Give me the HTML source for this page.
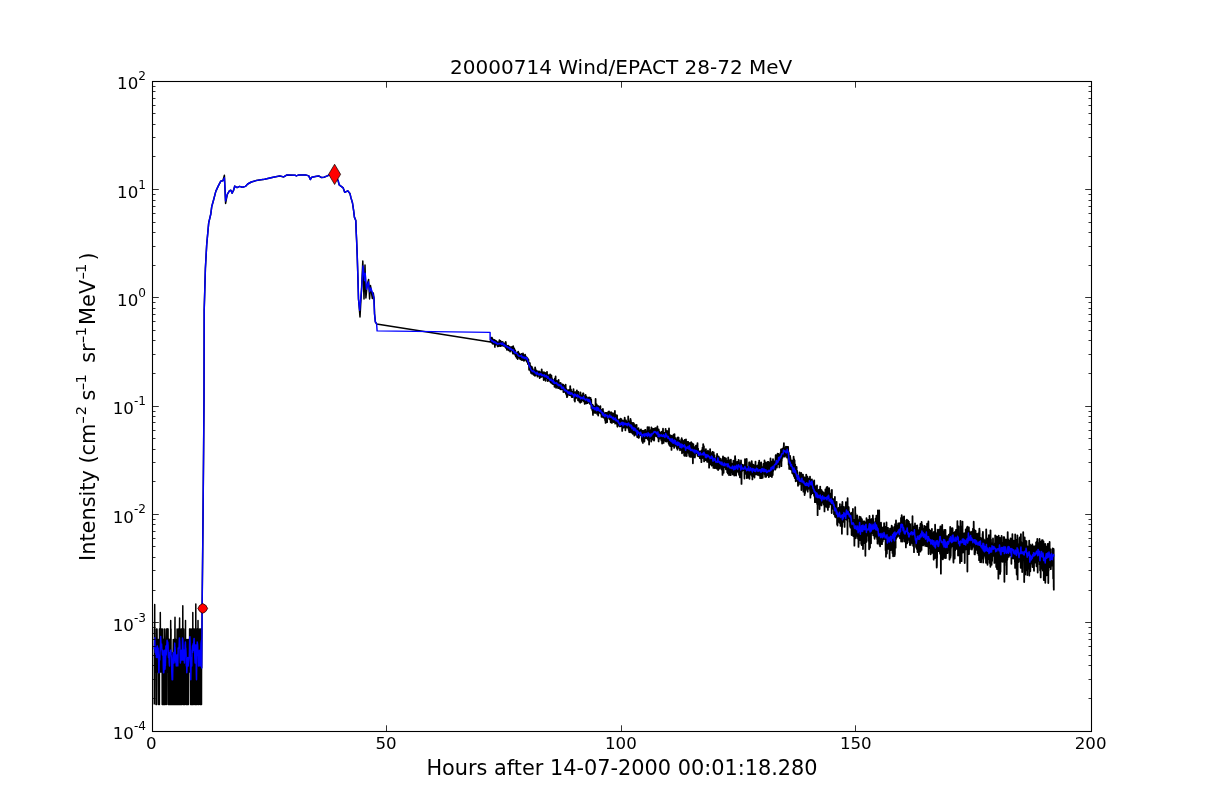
<!DOCTYPE html>
<html lang="en"><head><meta charset="utf-8"><title>20000714 Wind/EPACT 28-72 MeV</title>
<style>html,body{margin:0;padding:0;background:#fff}body{width:1212px;height:812px;overflow:hidden}svg{display:block}text{font-family:"DejaVu Sans","Liberation Sans",sans-serif;fill:#000}.t{font-size:16.67px}.s{font-size:12.1px}.l{font-size:20.83px}.ls{font-size:14.58px}</style></head><body>
<svg width="1212" height="812" viewBox="0 0 1212 812">
<rect width="1212" height="812" fill="#fff"/>
<g fill="none" stroke-linejoin="round" stroke-linecap="butt">
<polyline stroke="#000" stroke-width="1.5" points="154.3,704.6 154.4,628.9 154.5,639.4 154.7,604.5 154.8,672.0 154.9,672.0 155.0,639.4 155.1,672.0 155.2,672.0 155.4,652.9 155.5,639.4 155.6,652.9 155.7,639.4 155.8,639.4 156.0,704.6 156.1,704.6 156.2,639.4 156.3,672.0 156.4,628.9 156.6,652.9 156.7,704.6 156.8,672.0 156.9,639.4 157.0,628.9 157.1,639.4 157.3,672.0 157.4,639.4 157.5,672.0 157.6,672.0 157.7,639.4 157.9,672.0 158.0,672.0 158.1,672.0 158.2,639.4 158.3,639.4 158.4,639.4 158.6,704.6 158.7,672.0 158.8,704.6 158.9,704.6 159.0,704.6 159.2,652.9 159.3,639.4 159.4,704.6 159.5,628.9 159.6,672.0 159.8,672.0 159.9,672.0 160.0,672.0 160.1,652.9 160.2,672.0 160.3,612.4 160.5,652.9 160.6,672.0 160.7,628.9 160.8,672.0 160.9,628.9 161.1,639.4 161.2,672.0 161.3,628.9 161.4,672.0 161.5,652.9 161.6,639.4 161.8,652.9 161.9,639.4 162.0,652.9 162.1,652.9 162.2,704.6 162.4,672.0 162.5,628.9 162.6,704.6 162.7,639.4 162.8,652.9 163.0,652.9 163.1,672.0 163.2,652.9 163.3,704.6 163.4,639.4 163.5,704.6 163.7,704.6 163.8,704.6 163.9,672.0 164.0,704.6 164.1,652.9 164.3,704.6 164.4,628.9 164.5,639.4 164.6,652.9 164.7,672.0 164.9,652.9 165.0,672.0 165.1,672.0 165.2,704.6 165.3,704.6 165.4,672.0 165.6,639.4 165.7,652.9 165.8,672.0 165.9,652.9 166.0,639.4 166.2,628.9 166.3,672.0 166.4,672.0 166.5,704.6 166.6,672.0 166.7,639.4 166.9,628.9 167.0,628.9 167.1,652.9 167.2,639.4 167.3,672.0 167.5,652.9 167.6,628.9 167.7,652.9 167.8,628.9 167.9,652.9 168.1,628.9 168.2,704.6 168.3,672.0 168.4,639.4 168.5,672.0 168.6,672.0 168.8,652.9 168.9,639.4 169.0,639.4 169.1,704.6 169.2,704.6 169.4,639.4 169.5,704.6 169.6,704.6 169.7,652.9 169.8,639.4 169.9,639.4 170.1,652.9 170.2,639.4 170.3,704.6 170.4,672.0 170.5,672.0 170.7,620.4 170.8,652.9 170.9,672.0 171.0,628.9 171.1,704.6 171.3,672.0 171.4,652.9 171.5,652.9 171.6,652.9 171.7,704.6 171.8,704.6 172.0,652.9 172.1,704.6 172.2,704.6 172.3,704.6 172.4,672.0 172.6,704.6 172.7,672.0 172.8,672.0 172.9,672.0 173.0,672.0 173.1,652.9 173.3,639.4 173.4,639.4 173.5,672.0 173.6,652.9 173.7,704.6 173.9,652.9 174.0,672.0 174.1,672.0 174.2,672.0 174.3,652.9 174.5,704.6 174.6,639.4 174.7,652.9 174.8,672.0 174.9,628.9 175.0,617.3 175.2,704.6 175.3,704.6 175.4,652.9 175.5,652.9 175.6,704.6 175.8,639.4 175.9,672.0 176.0,652.9 176.1,704.6 176.2,672.0 176.3,652.9 176.5,672.0 176.6,652.9 176.7,704.6 176.8,639.4 176.9,652.9 177.1,628.9 177.2,704.6 177.3,652.9 177.4,672.0 177.5,704.6 177.7,672.0 177.8,639.4 177.9,652.9 178.0,704.6 178.1,672.0 178.2,672.0 178.4,639.4 178.5,628.9 178.6,628.9 178.7,652.9 178.8,704.6 179.0,652.9 179.1,704.6 179.2,628.9 179.3,639.4 179.4,639.4 179.6,618.1 179.7,672.0 179.8,628.9 179.9,672.0 180.0,672.0 180.1,704.6 180.3,628.9 180.4,704.6 180.5,652.9 180.6,652.9 180.7,704.6 180.9,652.9 181.0,704.6 181.1,628.9 181.2,672.0 181.3,639.4 181.4,704.6 181.6,652.9 181.7,628.9 181.8,652.9 181.9,704.6 182.0,704.6 182.2,652.9 182.3,652.9 182.4,639.4 182.5,672.0 182.6,652.9 182.8,605.7 182.9,639.4 183.0,652.9 183.1,672.0 183.2,704.6 183.3,672.0 183.5,672.0 183.6,639.4 183.7,704.6 183.8,628.9 183.9,639.4 184.1,672.0 184.2,652.9 184.3,672.0 184.4,652.9 184.5,672.0 184.6,652.9 184.8,704.6 184.9,652.9 185.0,639.4 185.1,639.4 185.2,652.9 185.4,672.0 185.5,620.4 185.6,672.0 185.7,639.4 185.8,639.4 186.0,704.6 186.1,704.6 186.2,639.4 186.3,639.4 186.4,704.6 186.5,672.0 186.7,672.0 186.8,704.6 186.9,652.9 187.0,704.6 187.1,652.9 187.3,704.6 187.4,652.9 187.5,672.0 187.6,652.9 187.7,639.4 187.8,704.6 188.0,652.9 188.1,672.0 188.2,672.0 188.3,672.0 188.4,704.6 188.6,639.4 188.7,652.9 188.8,672.0 188.9,652.9 189.0,672.0 189.2,672.0 189.3,672.0 189.4,639.4 189.5,652.9 189.6,628.9 189.7,672.0 189.9,628.9 190.0,628.9 190.1,652.9 190.2,628.9 190.3,672.0 190.5,672.0 190.6,704.6 190.7,704.6 190.8,704.6 190.9,704.6 191.0,672.0 191.2,652.9 191.3,628.9 191.4,704.6 191.5,652.9 191.6,672.0 191.8,704.6 191.9,652.9 192.0,652.9 192.1,672.0 192.2,628.9 192.4,628.9 192.5,704.6 192.6,672.0 192.7,704.6 192.8,612.4 192.9,652.9 193.1,704.6 193.2,639.4 193.3,628.9 193.4,704.6 193.5,652.9 193.7,672.0 193.8,628.9 193.9,639.4 194.0,639.4 194.1,652.9 194.3,628.9 194.4,652.9 194.5,652.9 194.6,639.4 194.7,704.6 194.8,704.6 195.0,639.4 195.1,672.0 195.2,652.9 195.3,672.0 195.4,652.9 195.6,704.6 195.7,639.4 195.8,604.0 195.9,672.0 196.0,639.4 196.1,704.6 196.3,672.0 196.4,672.0 196.5,704.6 196.6,704.6 196.7,672.0 196.9,672.0 197.0,652.9 197.1,639.4 197.2,628.9 197.3,639.4 197.5,639.4 197.6,652.9 197.7,652.9 197.8,704.6 197.9,672.0 198.0,620.4 198.2,672.0 198.3,672.0 198.4,652.9 198.5,652.9 198.6,704.6 198.8,672.0 198.9,672.0 199.0,672.0 199.1,652.9 199.2,672.0 199.3,628.9 199.5,672.0 199.6,639.4 199.7,652.9 199.8,672.0 199.9,704.6 200.1,652.9 200.2,628.9 200.3,704.6 200.4,704.6 200.5,704.6 200.7,652.9 200.8,672.0 200.9,639.4 201.0,628.9 201.1,628.9 201.2,652.9 201.4,672.0 201.5,704.6 201.6,628.9 201.7,668.0 201.9,640.0 202.2,600.0 203.0,520.0 203.6,450.0 204.0,400.0 204.2,310.0 205.4,268.2 206.7,244.6 208.7,222.9 210.8,214.0 211.7,206.8 213.5,200.3 215.8,191.4 218.2,186.1 220.8,181.1 222.9,180.8 224.4,175.3 225.6,203.4 227.3,194.4 229.4,190.8 230.9,190.2 232.1,193.2 233.6,190.2 234.7,186.1 237.1,187.6 239.5,186.4 242.4,187.3 245.4,186.4 247.7,184.0 251.3,182.0 256.0,180.6 259.6,179.9 264.6,179.2 273.2,177.2 279.8,175.9 283.7,176.9 287.0,174.9 295.0,175.2 296.3,175.9 298.9,174.9 305.5,174.9 308.8,175.9 310.3,179.5 311.8,177.2 315.4,176.5 318.7,175.9 321.4,177.5 324.0,177.2 328.0,175.6 329.0,174.9 334.6,174.2 338.1,180.5 339.2,184.9 343.2,187.9 344.7,192.3 347.7,190.8 349.9,193.4 351.0,197.9 352.5,203.0 353.6,210.4 354.4,217.1 355.8,220.5 356.2,232.0 356.6,240.0 357.2,255.0 357.9,277.0 358.5,299.1 358.6,300.0 360.0,317.0 361.5,290.0 362.8,261.0 364.0,299.0 365.0,265.0 365.9,298.0 367.2,285.0 368.6,279.4 369.6,299.0 370.5,285.6 372.3,298.5 373.3,293.0 374.0,298.0 374.6,314.0 375.4,322.0 376.6,323.9 490.5,342.1 490.6,339.1"/>
<polyline stroke="#000" stroke-width="1.8" points="490.6,339.1 490.7,339.6 490.9,339.3 491.0,341.1 491.1,337.7 491.2,340.4 491.4,341.5 491.5,339.9 491.6,342.4 491.7,338.9 491.9,341.5 492.0,337.7 492.1,339.2 492.2,341.3 492.4,341.5 492.5,343.4 492.6,342.0 492.7,340.7 492.9,343.7 493.0,339.3 493.1,343.6 493.2,343.9 493.4,342.6 493.5,341.6 493.6,343.0 493.7,342.6 493.9,342.0 494.0,341.6 494.1,341.6 494.2,341.6 494.4,343.1 494.5,343.2 494.6,339.9 494.7,340.7 494.9,346.9 495.0,341.9 495.1,342.9 495.2,342.3 495.4,342.6 495.5,342.4 495.6,340.8 495.7,344.5 495.9,342.8 496.0,341.0 496.1,343.6 496.2,344.3 496.4,342.8 496.5,341.5 496.6,344.5 496.7,343.9 496.9,342.4 497.0,341.9 497.1,344.1 497.2,344.0 497.4,342.2 497.5,345.0 497.6,342.7 497.7,346.4 497.9,343.0 498.0,344.6 498.1,342.3 498.2,345.3 498.4,344.0 498.5,342.4 498.6,344.1 498.7,344.2 498.9,343.8 499.0,344.4 499.1,346.0 499.2,342.6 499.4,340.2 499.5,342.5 499.6,344.5 499.7,341.7 499.9,343.7 500.0,344.5 500.1,340.9 500.2,343.2 500.4,344.6 500.5,340.8 500.6,341.9 500.7,346.2 500.9,343.2 501.0,342.8 501.1,341.6 501.2,344.0 501.4,344.2 501.5,344.4 501.6,345.2 501.7,343.2 501.9,342.5 502.0,344.5 502.1,343.5 502.2,345.6 502.4,343.5 502.5,344.9 502.6,344.9 502.7,342.0 502.9,342.4 503.0,345.1 503.1,343.6 503.2,344.2 503.4,343.9 503.5,345.6 503.6,345.8 503.7,345.1 503.9,345.3 504.0,344.2 504.1,345.7 504.2,343.8 504.4,345.9 504.5,346.2 504.6,344.6 504.7,343.5 504.9,344.6 505.0,344.5 505.1,346.8 505.2,345.5 505.4,344.5 505.5,347.2 505.6,347.6 505.7,342.0 505.9,343.2 506.0,347.4 506.1,348.1 506.2,345.5 506.4,345.4 506.5,347.4 506.6,346.1 506.7,346.9 506.9,349.8 507.0,349.1 507.1,349.8 507.2,347.1 507.4,347.8 507.5,348.6 507.6,347.8 507.7,345.9 507.9,346.3 508.0,347.2 508.1,346.8 508.2,345.7 508.4,346.7 508.5,348.2 508.6,350.3 508.7,346.1 508.9,346.8 509.0,347.5 509.1,347.1 509.2,347.7 509.4,349.2 509.5,348.2 509.6,349.3 509.7,350.3 509.9,348.3 510.0,347.0 510.1,351.5 510.2,347.6 510.4,347.9 510.5,347.3 510.6,349.2 510.7,349.9 510.9,349.1 511.0,349.8 511.1,348.2 511.2,349.0 511.4,350.2 511.5,349.8 511.6,347.7 511.7,349.7 511.9,346.9 512.0,349.9 512.1,347.7 512.2,349.9 512.4,351.8 512.5,349.7 512.6,350.0 512.7,350.1 512.9,353.5 513.0,351.9 513.1,351.1 513.2,346.2 513.4,352.8 513.5,348.5 513.6,353.6 513.7,353.3 513.9,351.9 514.0,351.5 514.1,351.7 514.2,348.3 514.4,352.0 514.5,352.6 514.6,353.3 514.7,353.7 514.9,351.5 515.0,351.2 515.1,354.4 515.2,350.3 515.4,355.3 515.5,351.5 515.6,353.0 515.7,356.3 515.9,353.1 516.0,354.5 516.1,354.8 516.2,354.1 516.4,355.3 516.5,355.5 516.6,357.8 516.7,353.9 516.9,354.7 517.0,357.6 517.1,354.6 517.2,354.2 517.4,357.9 517.5,355.4 517.6,352.9 517.7,359.0 517.9,352.1 518.0,355.7 518.1,354.6 518.2,351.7 518.4,354.6 518.5,356.2 518.6,353.2 518.7,356.8 518.9,357.3 519.0,353.2 519.1,353.6 519.2,355.3 519.4,357.2 519.5,354.1 519.6,357.9 519.7,356.7 519.9,355.3 520.0,356.1 520.1,358.9 520.2,355.9 520.4,357.0 520.5,359.3 520.6,355.7 520.7,355.7 520.9,355.0 521.0,356.0 521.1,354.7 521.2,357.6 521.4,354.0 521.5,357.1 521.6,356.0 521.7,356.6 521.9,357.7 522.0,360.2 522.1,355.7 522.2,358.9 522.4,355.9 522.5,353.9 522.6,357.2 522.7,358.0 522.9,355.3 523.0,353.5 523.1,354.5 523.2,357.3 523.4,357.2 523.5,356.0 523.6,356.7 523.7,360.3 523.9,355.1 524.0,360.9 524.1,360.1 524.2,358.1 524.4,355.8 524.5,357.5 524.6,358.2 524.7,358.2 524.9,358.8 525.0,356.9 525.1,354.7 525.2,357.9 525.4,355.8 525.5,357.6 525.6,359.8 525.7,359.6 525.9,356.9 526.0,356.8 526.1,360.0 526.2,359.6 526.4,359.0 526.5,357.1 526.6,357.3 526.7,361.7 526.9,358.2 527.0,359.2 527.1,358.3 527.2,360.5 527.4,361.2 527.5,360.4 527.6,358.4 527.7,359.5 527.9,364.0 528.0,361.3 528.1,361.3 528.2,361.5 528.4,359.5 528.5,361.2 528.6,362.8 528.7,363.3 528.9,364.6 529.0,364.4 529.1,369.8 529.2,365.9 529.4,366.2 529.5,364.8 529.6,365.1 529.7,363.8 529.9,363.0 530.0,369.7 530.1,365.9 530.2,367.9 530.4,367.8 530.5,365.6 530.6,370.6 530.7,371.7 530.9,371.3 531.0,372.9 531.1,371.2 531.2,370.1 531.4,370.0 531.5,371.1 531.6,371.2 531.7,369.2 531.9,367.0 532.0,373.0 532.1,373.8 532.2,368.0 532.4,370.1 532.5,368.4 532.6,370.5 532.7,369.1 532.9,369.9 533.0,372.6 533.1,370.8 533.2,372.8 533.4,370.9 533.5,372.0 533.6,374.8 533.7,371.9 533.9,373.5 534.0,374.8 534.1,374.2 534.2,375.0 534.4,371.4 534.5,370.2 534.6,371.5 534.7,371.4 534.9,375.8 535.0,374.8 535.1,367.4 535.2,370.6 535.4,374.5 535.5,375.5 535.6,369.1 535.7,375.2 535.9,373.0 536.0,372.5 536.1,371.4 536.2,371.9 536.4,374.8 536.5,374.9 536.6,374.6 536.7,371.0 536.9,372.2 537.0,374.9 537.1,372.8 537.2,372.5 537.4,373.5 537.5,376.6 537.6,375.7 537.7,376.7 537.9,371.3 538.0,374.3 538.1,374.4 538.2,372.4 538.4,373.8 538.5,374.4 538.6,372.1 538.7,373.0 538.9,374.3 539.0,375.3 539.1,371.5 539.2,373.8 539.4,373.3 539.5,372.1 539.6,375.3 539.7,378.2 539.9,376.2 540.0,373.5 540.1,372.2 540.2,375.6 540.4,374.9 540.5,376.5 540.6,374.4 540.7,372.3 540.9,375.6 541.0,377.2 541.1,375.1 541.2,375.8 541.4,372.0 541.5,375.8 541.6,372.4 541.7,369.4 541.9,375.1 542.0,373.3 542.1,375.4 542.2,373.2 542.4,374.6 542.5,376.5 542.6,376.4 542.7,376.4 542.9,374.9 543.0,376.0 543.1,372.2 543.2,374.4 543.4,376.2 543.5,372.8 543.6,373.9 543.7,380.0 543.9,374.9 544.0,374.7 544.1,374.5 544.2,374.5 544.4,372.5 544.5,376.6 544.6,378.1 544.7,376.1 544.9,375.5 545.0,376.1 545.1,375.7 545.2,372.8 545.4,379.7 545.5,374.4 545.6,380.8 545.7,376.3 545.9,379.0 546.0,377.4 546.1,378.1 546.2,374.4 546.4,374.3 546.5,377.6 546.6,378.0 546.7,375.5 546.9,378.2 547.0,371.8 547.1,377.5 547.2,376.5 547.4,378.7 547.5,376.1 547.6,375.6 547.7,381.0 547.9,376.8 548.0,377.8 548.1,375.4 548.2,380.3 548.4,375.5 548.5,376.2 548.6,378.7 548.7,380.7 548.9,375.5 549.0,379.7 549.1,377.4 549.2,379.0 549.4,380.9 549.5,376.5 549.6,380.9 549.7,380.8 549.9,379.7 550.0,378.3 550.1,374.3 550.2,376.9 550.4,377.2 550.5,381.2 550.6,382.3 550.7,380.0 550.9,378.4 551.0,380.2 551.1,377.5 551.2,382.8 551.4,375.4 551.5,379.5 551.6,377.2 551.7,379.9 551.9,378.4 552.0,380.3 552.1,383.3 552.2,381.5 552.4,382.0 552.5,383.9 552.6,380.3 552.7,379.3 552.9,381.5 553.0,383.4 553.1,381.3 553.2,382.4 553.4,380.5 553.5,384.2 553.6,383.9 553.7,382.4 553.9,383.4 554.0,383.0 554.1,380.4 554.2,382.1 554.4,381.4 554.5,386.8 554.6,382.5 554.7,386.4 554.9,378.4 555.0,383.8 555.1,381.7 555.2,383.0 555.4,385.0 555.5,379.9 555.6,376.5 555.7,382.8 555.9,381.9 556.0,381.4 556.1,387.8 556.2,386.1 556.4,381.9 556.5,382.0 556.6,383.0 556.7,380.8 556.9,384.2 557.0,383.8 557.1,383.6 557.2,383.2 557.4,382.3 557.5,385.9 557.6,381.6 557.7,381.7 557.9,382.8 558.0,388.0 558.1,384.3 558.2,380.8 558.4,382.6 558.5,382.4 558.6,380.0 558.7,383.7 558.9,383.9 559.0,388.0 559.1,385.5 559.2,384.4 559.4,384.5 559.5,383.2 559.6,384.8 559.7,388.7 559.9,383.6 560.0,385.2 560.1,386.4 560.2,386.4 560.4,388.3 560.5,385.3 560.6,382.8 560.7,389.3 560.9,387.5 561.0,384.9 561.1,384.7 561.2,384.4 561.4,386.0 561.5,389.4 561.6,384.6 561.7,387.4 561.9,386.3 562.0,384.3 562.1,388.6 562.2,384.4 562.4,388.3 562.5,387.0 562.6,386.9 562.7,387.2 562.9,385.0 563.0,385.7 563.1,389.1 563.2,384.6 563.4,392.0 563.5,391.4 563.6,388.4 563.7,388.0 563.9,389.3 564.0,385.7 564.1,390.3 564.2,389.9 564.4,390.4 564.5,388.8 564.6,389.1 564.7,388.7 564.9,391.8 565.0,389.7 565.1,392.2 565.2,391.6 565.4,389.8 565.5,390.1 565.6,384.6 565.7,387.5 565.9,393.8 566.0,389.6 566.1,389.4 566.2,389.9 566.4,389.2 566.5,390.9 566.6,391.0 566.7,395.4 566.9,390.9 567.0,397.2 567.1,394.5 567.2,391.3 567.4,395.7 567.5,395.9 567.6,391.6 567.7,390.9 567.9,394.5 568.0,390.2 568.1,390.8 568.2,390.9 568.4,392.1 568.5,390.9 568.6,390.9 568.7,394.3 568.9,392.2 569.0,392.0 569.1,390.0 569.2,394.1 569.4,392.0 569.5,395.2 569.6,393.8 569.7,393.9 569.9,394.9 570.0,392.0 570.1,392.9 570.2,386.1 570.4,394.6 570.5,391.7 570.6,395.1 570.7,391.1 570.9,395.5 571.0,389.5 571.1,392.7 571.2,392.6 571.4,395.8 571.5,391.3 571.6,395.1 571.7,397.0 571.9,393.7 572.0,393.5 572.1,397.2 572.2,392.2 572.4,397.2 572.5,395.0 572.6,393.1 572.7,396.3 572.9,394.2 573.0,395.2 573.1,396.4 573.2,391.4 573.4,392.2 573.5,389.2 573.6,392.1 573.7,392.9 573.9,395.3 574.0,394.2 574.1,396.7 574.2,395.5 574.4,396.1 574.5,400.6 574.6,393.8 574.7,395.9 574.9,401.5 575.0,394.4 575.1,392.2 575.2,396.1 575.4,397.3 575.5,396.9 575.6,392.4 575.7,398.4 575.9,392.6 576.0,395.9 576.1,396.9 576.2,391.9 576.4,395.0 576.5,392.9 576.6,396.1 576.7,397.6 576.9,390.3 577.0,394.6 577.1,395.2 577.2,397.7 577.4,396.7 577.5,393.8 577.6,395.8 577.7,397.8 577.9,394.1 578.0,400.3 578.1,395.9 578.2,395.5 578.4,391.8 578.5,394.7 578.6,396.2 578.7,397.4 578.9,400.5 579.0,398.1 579.1,397.9 579.2,398.3 579.4,401.7 579.5,396.2 579.6,396.6 579.7,396.1 579.9,396.1 580.0,397.9 580.1,401.6 580.2,402.8 580.4,398.3 580.5,392.4 580.6,400.1 580.7,396.9 580.9,397.1 581.0,394.9 581.1,398.3 581.2,396.1 581.4,398.8 581.5,401.9 581.6,399.0 581.7,396.8 581.9,396.0 582.0,398.0 582.1,396.7 582.2,400.0 582.4,400.5 582.5,396.0 582.6,395.6 582.7,399.4 582.9,396.4 583.0,393.4 583.1,397.2 583.2,395.7 583.4,393.5 583.5,398.0 583.6,399.1 583.7,398.0 583.9,401.4 584.0,400.4 584.1,401.2 584.2,397.7 584.4,399.6 584.5,396.4 584.6,398.6 584.7,403.9 584.9,400.2 585.0,400.1 585.1,400.0 585.2,402.3 585.4,397.3 585.5,402.6 585.6,394.8 585.7,395.7 585.9,399.5 586.0,399.8 586.1,397.7 586.2,397.9 586.4,403.4 586.5,401.1 586.6,397.0 586.7,401.1 586.9,399.8 587.0,397.8 587.1,402.1 587.2,401.8 587.4,399.3 587.5,398.7 587.6,403.0 587.7,399.9 587.9,400.1 588.0,401.5 588.1,401.9 588.2,401.8 588.4,401.4 588.5,398.7 588.6,397.7 588.7,398.6 588.9,398.8 589.0,402.2 589.1,399.4 589.2,397.5 589.4,397.7 589.5,399.9 589.6,400.4 589.7,403.4 589.9,398.3 590.0,400.8 590.1,404.0 590.2,403.1 590.4,402.3 590.5,402.1 590.6,398.0 590.7,402.3 590.9,402.0 591.0,400.8 591.1,403.2 591.2,399.7 591.4,407.8 591.5,408.6 591.6,404.1 591.7,405.8 591.9,407.6 592.0,408.7 592.1,405.6 592.2,407.0 592.4,410.5 592.5,407.0 592.6,407.6 592.7,405.0 592.9,412.7 593.0,414.9 593.1,406.0 593.2,407.7 593.4,412.8 593.5,407.1 593.6,411.5 593.7,407.3 593.9,408.8 594.0,406.6 594.1,408.3 594.2,410.4 594.4,407.6 594.5,411.9 594.6,411.1 594.7,406.7 594.9,411.2 595.0,406.7 595.1,413.0 595.2,407.9 595.4,406.0 595.5,408.7 595.6,398.9 595.7,407.3 595.9,407.2 596.0,406.9 596.1,404.9 596.2,406.6 596.4,412.7 596.5,407.9 596.6,409.3 596.7,404.5 596.9,409.6 597.0,411.3 597.1,410.1 597.2,413.9 597.4,406.8 597.5,409.8 597.6,412.6 597.7,407.3 597.9,406.1 598.0,409.6 598.1,408.7 598.2,415.5 598.4,406.1 598.5,411.7 598.6,410.1 598.7,408.8 598.9,408.6 599.0,412.3 599.1,408.9 599.2,406.9 599.4,412.5 599.5,409.1 599.6,408.3 599.7,410.2 599.9,409.3 600.0,409.3 600.1,412.5 600.2,412.7 600.4,406.2 600.5,413.2 600.6,413.6 600.7,410.8 600.9,411.4 601.0,411.0 601.1,412.5 601.2,413.8 601.4,411.1 601.5,416.8 601.6,412.6 601.7,413.5 601.9,414.3 602.0,409.8 602.1,412.4 602.2,413.1 602.4,412.7 602.5,414.3 602.6,414.7 602.7,416.9 602.9,409.0 603.0,411.6 603.1,416.2 603.2,412.5 603.4,413.8 603.5,411.9 603.6,417.7 603.7,414.4 603.9,417.1 604.0,413.5 604.1,414.6 604.2,417.6 604.4,413.9 604.5,417.5 604.6,416.6 604.7,413.3 604.9,413.2 605.0,419.8 605.1,419.1 605.2,420.8 605.4,416.0 605.5,413.5 605.6,422.9 605.7,412.8 605.9,413.4 606.0,415.7 606.1,416.6 606.2,412.8 606.4,418.5 606.5,415.2 606.6,413.3 606.7,417.3 606.9,415.9 607.0,412.9 607.1,422.2 607.2,413.8 607.4,418.7 607.5,417.5 607.6,415.0 607.7,416.7 607.9,415.7 608.0,417.4 608.1,415.5 608.2,416.5 608.4,411.7 608.5,417.4 608.6,414.2 608.7,414.2 608.9,417.4 609.0,411.3 609.1,415.4 609.2,416.9 609.4,417.8 609.5,419.2 609.6,414.9 609.7,418.5 609.9,416.0 610.0,416.8 610.1,418.5 610.2,417.5 610.4,414.0 610.5,420.4 610.6,412.3 610.7,422.3 610.9,416.2 611.0,420.2 611.1,412.2 611.2,415.2 611.4,416.4 611.5,416.6 611.6,417.3 611.7,414.8 611.9,422.9 612.0,416.9 612.1,415.9 612.2,417.5 612.4,418.5 612.5,420.9 612.6,417.0 612.7,413.1 612.9,416.7 613.0,417.2 613.1,420.9 613.2,418.0 613.4,418.9 613.5,417.2 613.6,422.1 613.7,422.1 613.9,417.9 614.0,417.2 614.1,413.5 614.2,418.1 614.4,417.1 614.5,417.6 614.6,419.9 614.7,415.8 614.9,411.0 615.0,420.0 615.1,419.0 615.2,423.7 615.4,422.2 615.5,422.0 615.6,420.0 615.7,420.6 615.9,421.7 616.0,417.1 616.1,415.2 616.2,423.1 616.4,420.0 616.5,420.8 616.6,417.5 616.7,417.0 616.9,423.9 617.0,418.9 617.1,415.4 617.2,424.2 617.4,426.8 617.5,425.2 617.6,422.2 617.7,419.1 617.9,423.7 618.0,424.9 618.1,421.0 618.2,424.4 618.4,421.8 618.5,424.3 618.6,424.5 618.7,420.8 618.9,423.6 619.0,421.9 619.1,420.2 619.2,424.9 619.4,423.5 619.5,426.3 619.6,424.5 619.7,419.7 619.9,426.1 620.0,422.3 620.1,422.8 620.2,426.3 620.4,418.7 620.5,423.4 620.6,420.5 620.7,422.3 620.9,422.9 621.0,422.3 621.1,426.0 621.2,422.3 621.4,419.1 621.5,421.1 621.6,424.4 621.7,425.6 621.9,423.9 622.0,421.4 622.1,424.8 622.2,430.9 622.4,424.1 622.5,425.0 622.6,420.7 622.7,423.7 622.9,425.3 623.0,423.3 623.1,420.8 623.2,427.7 623.4,422.4 623.5,425.3 623.6,424.7 623.7,423.7 623.9,427.5 624.0,425.9 624.1,426.1 624.2,426.7 624.4,419.6 624.5,420.3 624.6,425.7 624.7,417.6 624.9,421.6 625.0,427.2 625.1,424.2 625.2,420.3 625.4,430.3 625.5,425.4 625.6,426.0 625.7,420.7 625.9,420.7 626.0,420.4 626.1,422.2 626.2,421.8 626.4,422.5 626.5,425.4 626.6,424.8 626.7,422.7 626.9,422.4 627.0,424.8 627.1,425.2 627.2,427.7 627.4,421.9 627.5,423.3 627.6,423.0 627.7,425.5 627.9,424.5 628.0,426.1 628.1,426.1 628.2,416.4 628.4,424.9 628.5,425.1 628.6,423.6 628.7,430.0 628.9,428.1 629.0,425.3 629.1,421.2 629.2,432.1 629.4,428.0 629.5,423.7 629.6,426.6 629.7,430.8 629.9,422.3 630.0,423.6 630.1,432.3 630.2,423.3 630.4,424.1 630.5,418.9 630.6,423.7 630.7,420.0 630.9,421.1 631.0,431.2 631.1,424.3 631.2,423.2 631.4,424.9 631.5,430.2 631.6,424.2 631.7,422.6 631.9,432.7 632.0,424.7 632.1,423.6 632.2,430.2 632.4,430.4 632.5,429.2 632.6,427.4 632.7,433.8 632.9,431.2 633.0,429.3 633.1,422.9 633.2,423.3 633.4,430.5 633.5,430.1 633.6,429.7 633.7,430.3 633.9,423.5 634.0,428.1 634.1,430.9 634.2,434.9 634.4,435.7 634.5,429.9 634.6,426.1 634.7,433.4 634.9,430.6 635.0,433.5 635.1,425.1 635.2,429.7 635.4,428.1 635.5,431.9 635.6,432.5 635.7,431.3 635.9,428.0 636.0,434.7 636.1,431.8 636.2,431.6 636.4,433.6 636.5,432.5 636.6,424.8 636.7,432.1 636.9,430.6 637.0,431.7 637.1,432.8 637.2,437.0 637.4,433.5 637.5,434.9 637.6,429.1 637.7,432.9 637.9,434.5 638.0,434.5 638.1,432.3 638.2,430.2 638.4,435.0 638.5,428.2 638.6,437.9 638.7,433.5 638.9,434.4 639.0,437.5 639.1,434.9 639.2,431.2 639.4,430.6 639.5,433.2 639.6,433.9 639.7,433.9 639.9,430.5 640.0,433.3 640.1,432.4 640.2,433.7 640.4,432.4 640.5,435.1 640.6,433.6 640.7,434.7 640.9,430.6 641.0,429.4 641.1,434.3 641.2,431.3 641.4,431.7 641.5,430.7 641.6,436.5 641.7,437.2 641.9,440.2 642.0,431.4 642.1,434.9 642.2,441.5 642.4,436.4 642.5,433.2 642.6,437.8 642.7,438.1 642.9,442.9 643.0,430.7 643.1,434.3 643.2,434.5 643.4,435.5 643.5,433.0 643.6,433.2 643.7,432.4 643.9,433.4 644.0,431.1 644.1,432.8 644.2,435.5 644.4,441.6 644.5,436.2 644.6,434.3 644.7,434.1 644.9,438.5 645.0,437.1 645.1,429.8 645.2,432.1 645.4,429.8 645.5,435.2 645.6,430.7 645.7,433.7 645.9,435.2 646.0,435.0 646.1,438.1 646.2,436.2 646.4,433.2 646.5,434.5 646.6,436.4 646.7,432.6 646.9,436.4 647.0,436.6 647.1,433.0 647.2,434.5 647.4,432.1 647.5,427.1 647.6,439.0 647.7,434.1 647.9,437.8 648.0,434.8 648.1,437.1 648.2,432.4 648.4,440.3 648.5,437.8 648.6,438.5 648.7,438.8 648.9,434.8 649.0,427.1 649.1,444.5 649.2,436.8 649.4,435.9 649.5,435.6 649.6,430.6 649.7,430.6 649.9,438.0 650.0,434.0 650.1,431.6 650.2,435.6 650.4,434.8 650.5,434.6 650.6,433.3 650.7,431.7 650.9,437.8 651.0,429.6 651.1,433.4 651.2,441.6 651.4,427.4 651.5,435.9 651.6,432.7 651.7,434.5 651.9,435.8 652.0,428.5 652.1,431.6 652.2,431.5 652.4,436.2 652.5,436.7 652.6,431.1 652.7,432.6 652.9,439.1 653.0,429.6 653.1,439.8 653.2,433.6 653.4,438.0 653.5,428.9 653.6,433.6 653.7,432.4 653.9,430.9 654.0,440.5 654.1,438.4 654.2,440.4 654.4,428.6 654.5,430.0 654.6,432.1 654.7,434.3 654.9,432.5 655.0,429.6 655.1,432.3 655.2,431.3 655.4,428.2 655.5,430.5 655.6,433.7 655.7,428.6 655.9,436.0 656.0,428.1 656.1,434.5 656.2,436.3 656.4,435.9 656.5,431.2 656.6,435.0 656.7,432.8 656.9,433.0 657.0,434.6 657.1,432.0 657.2,429.3 657.4,426.5 657.5,433.8 657.6,431.0 657.7,437.5 657.9,430.6 658.0,436.1 658.1,430.8 658.2,436.9 658.4,430.2 658.5,430.1 658.6,441.4 658.7,429.5 658.9,434.0 659.0,438.4 659.1,432.7 659.2,436.3 659.4,431.4 659.5,432.3 659.6,437.1 659.7,436.4 659.9,438.1 660.0,432.6 660.1,438.6 660.2,436.7 660.4,435.5 660.5,435.3 660.6,438.7 660.7,433.1 660.9,436.0 661.0,435.6 661.1,432.7 661.2,435.6 661.4,440.4 661.5,435.8 661.6,433.8 661.7,431.6 661.9,432.2 662.0,432.7 662.1,443.5 662.2,439.9 662.4,432.2 662.5,437.7 662.6,435.8 662.7,436.7 662.9,436.7 663.0,428.7 663.1,437.6 663.2,436.4 663.4,432.6 663.5,436.0 663.6,442.9 663.7,437.6 663.9,434.1 664.0,440.8 664.1,432.8 664.2,437.1 664.4,439.6 664.5,439.8 664.6,438.8 664.7,433.9 664.9,435.5 665.0,435.2 665.1,433.0 665.2,435.7 665.4,439.5 665.5,441.3 665.6,428.8 665.7,435.0 665.9,433.1 666.0,436.9 666.1,432.7 666.2,439.7 666.4,438.2 666.5,430.9 666.6,440.3 666.7,441.6 666.9,440.6 667.0,435.3 667.1,430.8 667.2,440.4 667.4,436.5 667.5,437.5 667.6,437.1 667.7,435.9 667.9,431.8 668.0,431.6 668.1,436.2 668.2,434.9 668.4,435.2 668.5,439.9 668.6,443.3 668.7,441.2 668.9,433.9 669.0,428.4 669.1,444.8 669.2,437.2 669.4,443.5 669.5,442.2 669.6,441.4 669.7,434.6 669.9,443.0 670.0,442.0 670.1,446.1 670.2,437.6 670.4,444.0 670.5,439.4 670.6,436.1 670.7,441.7 670.9,441.5 671.0,438.8 671.1,442.5 671.2,436.3 671.4,435.8 671.5,449.9 671.6,442.6 671.7,441.6 671.9,440.7 672.0,443.5 672.1,446.3 672.2,440.5 672.4,440.8 672.5,438.4 672.6,440.3 672.7,445.8 672.9,444.2 673.0,442.6 673.1,438.7 673.2,435.2 673.4,444.0 673.5,439.9 673.6,444.2 673.7,439.9 673.9,434.4 674.0,439.7 674.1,444.3 674.2,447.9 674.4,445.7 674.5,434.1 674.6,442.5 674.7,442.8 674.9,444.6 675.0,441.8 675.1,442.3 675.2,437.9 675.4,439.6 675.5,444.4 675.6,441.9 675.7,439.2 675.9,440.9 676.0,445.8 676.1,444.2 676.2,439.7 676.4,440.2 676.5,446.7 676.6,441.0 676.7,443.5 676.9,448.2 677.0,441.5 677.1,447.4 677.2,447.4 677.4,437.7 677.5,449.7 677.6,443.9 677.7,446.3 677.9,437.5 678.0,443.9 678.1,440.4 678.2,445.5 678.4,447.8 678.5,445.6 678.6,437.6 678.7,447.5 678.9,441.9 679.0,443.5 679.1,447.9 679.2,440.5 679.4,443.8 679.5,442.0 679.6,444.9 679.7,445.2 679.9,444.1 680.0,450.3 680.1,447.7 680.2,447.7 680.4,441.9 680.5,448.6 680.6,447.4 680.7,444.2 680.9,445.8 681.0,442.9 681.1,441.2 681.2,439.7 681.4,449.5 681.5,442.7 681.6,442.7 681.7,438.2 681.9,444.8 682.0,453.3 682.1,439.6 682.2,442.6 682.4,444.4 682.5,443.6 682.6,447.9 682.7,442.1 682.9,446.9 683.0,440.9 683.1,452.2 683.2,448.3 683.4,449.5 683.5,443.0 683.6,448.6 683.7,447.5 683.9,444.8 684.0,449.6 684.1,452.9 684.2,455.5 684.4,450.2 684.5,448.2 684.6,439.9 684.7,447.4 684.9,450.0 685.0,455.9 685.1,445.8 685.2,449.4 685.4,444.2 685.5,449.2 685.6,451.2 685.7,448.6 685.9,445.9 686.0,439.4 686.1,443.8 686.2,447.3 686.4,445.9 686.5,451.1 686.6,445.2 686.7,456.1 686.9,446.5 687.0,450.8 687.1,444.2 687.2,445.5 687.4,448.3 687.5,445.0 687.6,442.0 687.7,447.8 687.9,444.8 688.0,445.3 688.1,452.5 688.2,441.8 688.4,452.8 688.5,452.2 688.6,447.0 688.7,444.4 688.9,444.4 689.0,451.7 689.1,455.1 689.2,449.4 689.4,453.9 689.5,456.5 689.6,445.0 689.7,448.3 689.9,443.0 690.0,446.7 690.1,447.2 690.2,452.1 690.4,447.8 690.5,453.1 690.6,452.8 690.7,447.0 690.9,448.4 691.0,457.0 691.1,448.5 691.2,442.2 691.4,449.3 691.5,445.0 691.6,450.2 691.7,450.5 691.9,451.4 692.0,446.6 692.1,449.7 692.2,443.5 692.4,456.2 692.5,450.0 692.6,444.9 692.7,448.1 692.9,463.3 693.0,449.2 693.1,454.6 693.2,451.0 693.4,444.2 693.5,454.0 693.6,450.7 693.7,446.8 693.9,451.3 694.0,454.4 694.1,451.7 694.2,452.9 694.4,454.1 694.5,452.9 694.6,448.3 694.7,457.4 694.9,453.9 695.0,457.4 695.1,446.9 695.2,449.2 695.4,452.1 695.5,453.3 695.6,451.5 695.7,453.3 695.9,445.7 696.0,453.3 696.1,452.4 696.2,450.1 696.4,452.2 696.5,448.2 696.6,453.4 696.7,451.6 696.9,447.4 697.0,445.5 697.1,448.5 697.2,444.8 697.4,452.0 697.5,443.1 697.6,455.7 697.7,454.4 697.9,451.1 698.0,456.1 698.1,448.6 698.2,455.1 698.4,455.8 698.5,452.1 698.6,451.2 698.7,455.5 698.9,452.7 699.0,452.7 699.1,453.0 699.2,456.5 699.4,456.2 699.5,456.2 699.6,455.3 699.7,451.3 699.9,458.2 700.0,456.6 700.1,453.7 700.2,457.6 700.4,456.3 700.5,452.6 700.6,456.0 700.7,453.8 700.9,458.7 701.0,453.5 701.1,454.1 701.2,450.9 701.4,462.2 701.5,460.1 701.6,450.9 701.7,453.3 701.9,450.1 702.0,451.2 702.1,456.1 702.2,458.1 702.4,458.1 702.5,447.7 702.6,451.6 702.7,455.9 702.9,454.3 703.0,447.4 703.1,452.2 703.2,444.1 703.4,452.5 703.5,451.1 703.6,456.6 703.7,455.3 703.9,446.2 704.0,457.3 704.1,461.4 704.2,452.3 704.4,454.5 704.5,456.4 704.6,451.2 704.7,460.4 704.9,457.0 705.0,450.7 705.1,459.4 705.2,456.4 705.4,456.8 705.5,452.5 705.6,456.5 705.7,460.2 705.9,449.1 706.0,455.6 706.1,455.9 706.2,455.0 706.4,456.6 706.5,453.2 706.6,454.1 706.7,453.8 706.9,458.3 707.0,457.0 707.1,461.8 707.2,451.5 707.4,460.7 707.5,451.5 707.6,452.1 707.7,461.8 707.9,457.4 708.0,450.7 708.1,458.1 708.2,451.3 708.4,458.8 708.5,452.0 708.6,461.6 708.7,454.4 708.9,460.9 709.0,457.6 709.1,467.7 709.2,452.9 709.4,456.3 709.5,454.2 709.6,457.6 709.7,457.7 709.9,451.8 710.0,456.4 710.1,449.1 710.2,458.4 710.4,456.1 710.5,455.5 710.6,458.4 710.7,464.4 710.9,463.7 711.0,457.2 711.1,456.5 711.2,454.7 711.4,463.0 711.5,453.2 711.6,460.2 711.7,465.7 711.9,462.7 712.0,457.0 712.1,453.6 712.2,461.0 712.4,451.9 712.5,462.1 712.6,451.9 712.7,454.3 712.9,455.2 713.0,459.7 713.1,458.4 713.2,462.2 713.4,467.9 713.5,453.8 713.6,458.5 713.7,452.3 713.9,463.3 714.0,461.6 714.1,458.9 714.2,456.9 714.4,463.8 714.5,455.1 714.6,467.2 714.7,463.8 714.9,468.1 715.0,464.6 715.1,467.7 715.2,459.3 715.4,462.5 715.5,458.7 715.6,458.4 715.7,460.4 715.9,464.0 716.0,461.5 716.1,461.1 716.2,461.5 716.4,460.5 716.5,458.2 716.6,467.9 716.7,468.7 716.9,456.0 717.0,458.6 717.1,453.9 717.2,461.3 717.4,461.7 717.5,466.8 717.6,465.3 717.7,459.3 717.9,457.4 718.0,459.7 718.1,470.1 718.2,459.7 718.4,463.2 718.5,456.5 718.6,461.1 718.7,456.6 718.9,467.4 719.0,462.9 719.1,465.1 719.2,461.9 719.4,462.6 719.5,457.9 719.6,466.3 719.7,468.6 719.9,459.9 720.0,463.7 720.1,462.3 720.2,460.3 720.4,462.7 720.5,460.6 720.6,461.0 720.7,463.4 720.9,459.0 721.0,460.0 721.1,460.0 721.2,462.1 721.4,465.0 721.5,465.7 721.6,469.6 721.7,466.9 721.9,465.8 722.0,463.2 722.1,466.9 722.2,466.2 722.4,465.1 722.5,474.9 722.6,463.3 722.7,469.4 722.9,458.2 723.0,456.4 723.1,464.4 723.2,467.4 723.4,461.9 723.5,467.8 723.6,472.8 723.7,468.6 723.9,462.7 724.0,458.3 724.1,463.8 724.2,457.7 724.4,460.0 724.5,465.3 724.6,461.7 724.7,465.7 724.9,462.1 725.0,465.7 725.1,465.3 725.2,463.5 725.4,467.2 725.5,458.2 725.6,466.1 725.7,463.2 725.9,469.3 726.0,458.5 726.1,465.4 726.2,464.3 726.4,462.9 726.5,466.6 726.6,461.9 726.7,466.2 726.9,463.7 727.0,467.0 727.1,462.0 727.2,472.3 727.4,472.3 727.5,461.3 727.6,460.6 727.7,464.1 727.9,473.6 728.0,468.6 728.1,461.4 728.2,457.5 728.4,459.7 728.5,469.9 728.6,467.5 728.7,459.7 728.9,467.2 729.0,471.6 729.1,475.1 729.2,463.5 729.4,463.9 729.5,467.6 729.6,461.1 729.7,474.7 729.9,463.9 730.0,460.5 730.1,474.7 730.2,463.9 730.4,465.4 730.5,464.7 730.6,466.2 730.7,475.2 730.9,459.6 731.0,473.0 731.1,468.9 731.2,464.4 731.4,469.3 731.5,465.5 731.6,463.3 731.7,472.6 731.9,467.4 732.0,468.2 732.1,469.0 732.2,466.3 732.4,468.2 732.5,466.3 732.6,469.4 732.7,474.4 732.9,468.2 733.0,469.8 733.1,473.6 733.2,469.4 733.4,460.7 733.5,466.0 733.6,469.5 733.7,466.4 733.9,469.5 734.0,466.4 734.1,470.7 734.2,475.5 734.4,464.6 734.5,468.7 734.6,465.7 734.7,469.6 734.9,475.0 735.0,457.7 735.1,456.1 735.2,465.4 735.4,458.9 735.5,471.6 735.6,470.0 735.7,470.8 735.9,472.4 736.0,463.6 736.1,475.5 736.2,468.8 736.4,467.6 736.5,471.2 736.6,467.6 736.7,462.2 736.9,467.6 737.0,462.2 737.1,467.6 737.2,466.8 737.4,462.2 737.5,462.5 737.6,465.4 737.7,462.2 737.9,469.6 738.0,470.4 738.1,462.5 738.2,472.4 738.4,468.0 738.5,469.2 738.6,459.9 738.7,464.3 738.9,460.5 739.0,474.2 739.1,475.0 739.2,464.6 739.4,470.4 739.5,466.8 739.6,465.0 739.7,465.4 739.9,477.3 740.0,465.4 740.1,465.4 740.2,462.9 740.4,467.2 740.5,463.2 740.6,466.8 740.7,467.6 740.9,466.5 741.0,460.5 741.1,472.0 741.2,468.4 741.4,472.9 741.5,483.9 741.6,475.0 741.7,468.4 741.9,470.0 742.0,470.4 742.1,471.2 742.2,469.6 742.4,470.8 742.5,467.2 742.6,468.0 742.7,464.7 742.9,468.0 743.0,465.4 743.1,468.8 743.2,468.1 743.4,467.7 743.5,466.9 743.6,466.2 743.7,468.5 743.9,469.3 744.0,470.5 744.1,465.1 744.2,469.3 744.4,473.0 744.5,478.5 744.6,467.8 744.7,465.6 744.9,467.8 745.0,459.1 745.1,466.7 745.2,474.0 745.4,473.5 745.5,469.8 745.6,469.8 745.7,468.3 745.9,467.9 746.0,472.3 746.1,464.2 746.2,469.1 746.4,460.8 746.5,463.9 746.6,472.3 746.7,458.9 746.9,478.2 747.0,471.1 747.1,470.3 747.2,469.9 747.4,467.2 747.5,473.3 747.6,472.8 747.7,471.2 747.9,472.4 748.0,467.3 748.1,470.4 748.2,466.9 748.4,475.1 748.5,472.1 748.6,467.3 748.7,477.8 748.9,472.1 749.0,468.1 749.1,462.4 749.2,466.6 749.4,470.9 749.5,478.8 749.6,462.4 749.7,470.5 749.9,473.0 750.0,473.4 750.1,469.3 750.2,463.8 750.4,467.4 750.5,469.0 750.6,471.4 750.7,469.4 750.9,469.4 751.0,466.3 751.1,466.0 751.2,474.8 751.4,467.8 751.5,468.6 751.6,461.8 751.7,461.1 751.9,464.9 752.0,468.2 752.1,476.6 752.2,470.2 752.4,479.4 752.5,464.2 752.6,470.6 752.7,473.5 752.9,469.0 753.0,473.1 753.1,468.6 753.2,476.1 753.4,471.4 753.5,470.6 753.6,464.9 753.7,475.7 753.9,470.2 754.0,465.3 754.1,473.5 754.2,474.4 754.4,471.0 754.5,477.5 754.6,470.6 754.7,469.8 754.9,470.2 755.0,467.5 755.1,467.9 755.2,471.5 755.4,473.1 755.5,461.6 755.6,471.1 755.7,474.4 755.9,465.4 756.0,471.1 756.1,473.1 756.2,469.5 756.4,466.1 756.5,473.2 756.6,471.1 756.7,468.3 756.9,468.3 757.0,466.1 757.1,472.3 757.2,474.5 757.4,471.1 757.5,469.1 757.6,474.9 757.7,465.4 757.9,466.9 758.0,471.9 758.1,469.5 758.2,465.1 758.4,471.1 758.5,471.1 758.6,469.5 758.7,462.6 758.9,473.6 759.0,466.5 759.1,475.4 759.2,460.7 759.4,470.4 759.5,466.9 759.6,470.0 759.7,472.0 759.9,472.8 760.0,470.4 760.1,470.8 760.2,478.2 760.4,464.1 760.5,472.4 760.6,472.8 760.7,465.5 760.9,464.1 761.0,462.7 761.1,465.1 761.2,462.4 761.4,478.2 761.5,469.6 761.6,476.8 761.7,473.3 761.9,475.5 762.0,474.6 762.1,472.5 762.2,472.9 762.4,474.2 762.5,476.8 762.6,467.4 762.7,477.8 762.9,471.3 763.0,472.9 763.1,466.6 763.2,470.5 763.4,466.3 763.5,463.8 763.6,470.5 763.7,469.3 763.9,467.0 764.0,468.5 764.1,472.1 764.2,466.3 764.4,470.9 764.5,460.5 764.6,465.9 764.7,474.6 764.9,469.7 765.0,465.5 765.1,470.0 765.2,476.8 765.4,466.6 765.5,473.3 765.6,470.8 765.7,471.2 765.9,462.4 766.0,470.0 766.1,465.1 766.2,476.8 766.4,470.4 766.5,466.5 766.6,465.8 766.7,472.8 766.9,473.6 767.0,474.1 767.1,473.2 767.2,472.3 767.4,469.9 767.5,469.5 767.6,467.2 767.7,461.9 767.9,475.3 768.0,474.0 768.1,469.5 768.2,470.6 768.4,474.8 768.5,461.9 768.6,472.3 768.7,471.4 768.9,477.1 769.0,472.2 769.1,473.1 769.2,473.9 769.4,463.1 769.5,468.6 769.6,471.0 769.7,470.9 769.9,470.5 770.0,470.9 770.1,470.5 770.2,475.1 770.4,473.8 770.5,458.5 770.6,476.0 770.7,470.4 770.9,468.0 771.0,466.8 771.1,465.3 771.2,465.7 771.4,475.3 771.5,469.4 771.6,467.8 771.7,461.7 771.9,477.0 772.0,470.1 772.1,462.6 772.2,470.8 772.4,472.0 772.5,470.0 772.6,468.3 772.7,475.0 772.9,466.7 773.0,459.1 773.1,463.1 773.2,471.0 773.4,469.7 773.5,466.2 773.6,468.5 773.7,468.5 773.9,461.2 774.0,468.8 774.1,465.7 774.2,467.5 774.4,467.5 774.5,468.3 774.6,465.2 774.7,461.6 774.9,468.6 775.0,466.6 775.1,468.1 775.2,463.2 775.4,469.6 775.5,458.7 775.6,460.6 775.7,455.2 775.9,463.0 776.0,464.4 776.1,455.1 776.2,465.8 776.4,458.4 776.5,462.4 776.6,465.6 776.7,459.6 776.9,467.5 777.0,464.8 777.1,464.0 777.2,462.9 777.4,464.3 777.5,457.4 777.6,453.7 777.7,462.7 777.9,457.6 778.0,459.8 778.1,457.5 778.2,462.2 778.4,454.0 778.5,463.1 778.6,457.3 778.7,464.2 778.9,457.6 779.0,461.2 779.1,457.8 779.2,462.5 779.4,467.4 779.5,457.3 779.6,455.4 779.7,454.4 779.9,458.2 780.0,461.5 780.1,456.1 780.2,461.1 780.4,454.8 780.5,452.9 780.6,461.3 780.7,454.0 780.9,459.5 781.0,449.3 781.1,455.1 781.2,459.0 781.4,466.2 781.5,455.6 781.6,449.4 781.7,460.9 781.9,454.8 782.0,452.7 782.1,456.3 782.2,448.8 782.4,453.4 782.5,457.8 782.6,452.7 782.7,450.1 782.9,450.9 783.0,448.3 783.1,454.1 783.2,451.0 783.4,455.5 783.5,450.3 783.6,447.0 783.7,449.2 783.9,443.2 784.0,456.4 784.1,448.6 784.2,453.3 784.4,454.5 784.5,450.0 784.6,453.9 784.7,450.6 784.9,456.7 785.0,449.1 785.1,454.2 785.2,448.3 785.4,449.7 785.5,448.0 785.6,449.1 785.7,450.2 785.9,446.7 786.0,450.2 786.1,452.0 786.2,453.8 786.4,452.3 786.5,455.4 786.6,446.9 786.7,447.2 786.9,452.9 787.0,457.6 787.1,447.9 787.2,453.4 787.4,450.5 787.5,452.2 787.6,446.8 787.7,449.0 787.9,449.9 788.0,452.2 788.1,446.8 788.2,449.7 788.4,460.0 788.5,452.0 788.6,460.8 788.7,464.7 788.9,453.0 789.0,461.6 789.1,457.8 789.2,468.9 789.4,461.6 789.5,458.4 789.6,458.5 789.7,457.6 789.9,465.9 790.0,465.2 790.1,455.9 790.2,463.5 790.4,457.8 790.5,469.3 790.6,464.4 790.7,463.7 790.9,466.3 791.0,464.5 791.1,463.9 791.2,466.5 791.4,469.2 791.5,466.6 791.6,469.7 791.7,467.4 791.9,460.4 792.0,462.1 792.1,468.4 792.2,472.9 792.4,470.4 792.5,468.9 792.6,465.6 792.7,473.5 792.9,472.7 793.0,471.5 793.1,466.1 793.2,464.7 793.4,471.3 793.5,472.1 793.6,456.7 793.7,474.4 793.9,476.2 794.0,470.3 794.1,459.1 794.2,465.9 794.4,474.6 794.5,462.2 794.6,460.3 794.7,478.0 794.9,478.0 795.0,470.7 795.1,475.8 795.2,464.5 795.4,470.1 795.5,476.0 795.6,469.1 795.7,481.3 795.9,472.7 796.0,477.1 796.1,475.0 796.2,475.0 796.4,472.5 796.5,474.7 796.6,466.9 796.7,469.9 796.9,472.4 797.0,473.6 797.1,473.7 797.2,470.9 797.4,481.0 797.5,475.1 797.6,477.4 797.7,476.1 797.9,481.7 798.0,485.8 798.1,475.8 798.2,483.8 798.4,475.9 798.5,483.9 798.6,478.2 798.7,476.0 798.9,484.5 799.0,476.9 799.1,476.5 799.2,477.4 799.4,477.5 799.5,475.8 799.6,472.5 799.7,475.4 799.9,473.4 800.0,475.5 800.1,475.9 800.2,482.4 800.4,479.1 800.5,477.3 800.6,481.0 800.7,480.1 800.9,478.7 801.0,484.5 801.1,483.1 801.2,472.9 801.4,490.0 801.5,475.8 801.6,481.7 801.7,474.2 801.9,481.8 802.0,478.1 802.1,482.8 802.2,480.9 802.4,474.8 802.5,482.9 802.6,481.5 802.7,484.5 802.9,479.7 803.0,474.6 803.1,484.1 803.2,480.7 803.4,491.7 803.5,480.8 803.6,477.2 803.7,490.1 803.9,482.3 804.0,489.0 804.1,483.3 804.2,482.9 804.4,479.2 804.5,477.4 804.6,495.0 804.7,484.9 804.9,485.9 805.0,493.2 805.1,490.8 805.2,487.0 805.4,480.1 805.5,485.5 805.6,484.5 805.7,478.0 805.9,480.7 806.0,484.0 806.1,481.1 806.2,474.6 806.4,482.6 806.5,475.5 806.6,485.1 806.7,487.1 806.9,487.1 807.0,489.9 807.1,478.5 807.2,488.2 807.4,483.1 807.5,476.8 807.6,482.7 807.7,491.7 807.9,479.5 808.0,480.4 808.1,484.7 808.2,486.7 808.4,488.9 808.5,486.2 808.6,481.4 808.7,480.4 808.9,479.5 809.0,478.6 809.1,486.7 809.2,486.2 809.4,481.3 809.5,482.2 809.6,484.1 809.7,483.6 809.9,480.3 810.0,476.7 810.1,491.0 810.2,483.5 810.4,497.7 810.5,482.5 810.6,486.0 810.7,479.7 810.9,483.9 811.0,487.5 811.1,489.7 811.2,494.4 811.4,481.9 811.5,485.9 811.6,483.9 811.7,480.6 811.9,479.3 812.0,483.6 812.1,484.2 812.2,484.7 812.4,485.8 812.5,481.5 812.6,486.0 812.7,493.2 812.9,485.6 813.0,485.7 813.1,483.3 813.2,490.1 813.4,488.5 813.5,489.1 813.6,488.6 813.7,493.8 813.9,482.3 814.0,488.9 814.1,495.8 814.2,480.3 814.4,490.2 814.5,491.9 814.6,489.2 814.7,491.5 814.9,502.2 815.0,485.9 815.1,497.1 815.2,492.9 815.4,486.6 815.5,490.3 815.6,495.5 815.7,491.6 815.9,495.7 816.0,491.7 816.1,502.2 816.2,488.1 816.4,498.3 816.5,489.1 816.6,491.9 816.7,490.3 816.9,493.6 817.0,485.3 817.1,503.9 817.2,499.8 817.4,493.2 817.5,490.5 817.6,515.2 817.7,499.3 817.9,502.7 818.0,495.1 818.1,499.4 818.2,492.3 818.4,498.2 818.5,495.8 818.6,495.2 818.7,504.3 818.9,489.7 819.0,497.1 819.1,494.2 819.2,492.5 819.4,503.8 819.5,489.4 819.6,509.0 819.7,493.2 819.9,496.7 820.0,499.2 820.1,503.2 820.2,486.6 820.4,504.7 820.5,500.6 820.6,498.7 820.7,495.1 820.9,489.6 821.0,500.6 821.1,496.2 821.2,495.0 821.4,501.2 821.5,505.4 821.6,490.1 821.7,502.6 821.9,496.2 822.0,501.2 822.1,495.6 822.2,493.3 822.4,496.1 822.5,491.6 822.6,495.5 822.7,493.8 822.9,502.5 823.0,496.1 823.1,495.5 823.2,493.2 823.4,499.2 823.5,492.6 823.6,500.4 823.7,504.5 823.9,494.3 824.0,494.9 824.1,496.6 824.2,496.0 824.4,496.6 824.5,511.4 824.6,501.7 824.7,498.4 824.9,499.1 825.0,501.0 825.1,493.1 825.2,505.1 825.4,489.3 825.5,503.0 825.6,505.1 825.7,506.6 825.9,500.9 826.0,496.5 826.1,494.2 826.2,500.3 826.4,500.9 826.5,505.8 826.6,487.3 826.7,500.3 826.9,494.2 827.0,493.1 827.1,495.4 827.2,507.4 827.4,486.9 827.5,491.6 827.6,491.0 827.7,499.2 827.9,509.9 828.0,500.6 828.1,499.9 828.2,491.7 828.4,495.1 828.5,496.9 828.6,502.0 828.7,502.7 828.9,507.0 829.0,492.4 829.1,488.2 829.2,495.8 829.4,500.2 829.5,501.5 829.6,501.5 829.7,503.6 829.9,498.4 830.0,504.3 830.1,499.0 830.2,499.1 830.4,497.8 830.5,494.3 830.6,504.4 830.7,493.3 830.9,501.8 831.0,502.4 831.1,504.5 831.2,501.8 831.4,503.9 831.5,490.2 831.6,496.9 831.7,513.1 831.9,489.8 832.0,507.6 832.1,508.4 832.2,498.2 832.4,507.7 832.5,504.9 832.6,507.1 832.7,499.1 832.9,499.2 833.0,505.2 833.1,500.6 833.2,507.5 833.4,500.8 833.5,507.0 833.6,509.3 833.7,508.6 833.9,500.5 834.0,514.3 834.1,510.4 834.2,498.9 834.4,509.8 834.5,499.7 834.6,507.0 834.7,510.8 834.9,497.0 835.0,515.9 835.1,516.8 835.2,508.9 835.4,508.3 835.5,516.2 835.6,515.4 835.7,505.7 835.9,502.5 836.0,517.4 836.1,514.1 836.2,508.1 836.4,515.1 836.5,510.5 836.6,501.8 836.7,511.4 836.9,509.9 837.0,510.7 837.1,524.5 837.2,517.1 837.4,518.0 837.5,525.5 837.6,513.1 837.7,513.9 837.9,518.1 838.0,514.7 838.1,514.7 838.2,510.8 838.4,515.6 838.5,508.0 838.6,518.1 838.7,516.4 838.9,513.2 839.0,521.8 839.1,517.3 839.2,515.7 839.4,519.1 839.5,512.5 839.6,522.8 839.7,512.6 839.9,504.1 840.0,519.2 840.1,517.5 840.2,515.8 840.4,506.8 840.5,525.9 840.6,515.9 840.7,517.5 840.9,511.9 841.0,511.2 841.1,525.0 841.2,515.1 841.4,520.3 841.5,507.7 841.6,517.7 841.7,508.4 841.9,533.8 842.0,504.4 842.1,527.2 842.2,525.1 842.4,501.9 842.5,507.1 842.6,522.3 842.7,507.8 842.9,518.6 843.0,520.4 843.1,509.8 843.2,516.8 843.4,516.8 843.5,518.5 843.6,521.2 843.7,515.9 843.9,506.9 844.0,518.4 844.1,519.3 844.2,522.0 844.4,518.4 844.5,511.9 844.6,526.9 844.7,521.9 844.9,512.6 845.0,514.9 845.1,511.0 845.2,516.5 845.4,519.1 845.5,512.5 845.6,512.5 845.7,509.5 845.9,502.1 846.0,508.0 846.1,510.1 846.2,519.0 846.4,514.7 846.5,518.1 846.6,513.1 846.7,519.8 846.9,512.3 847.0,513.8 847.1,513.8 847.2,501.9 847.4,505.1 847.5,534.4 847.6,498.2 847.7,512.9 847.9,507.0 848.0,514.5 848.1,509.1 848.2,509.1 848.4,514.4 848.5,509.0 848.6,516.1 848.7,507.1 848.9,516.3 849.0,518.1 849.1,511.6 849.2,511.7 849.4,514.1 849.5,512.6 849.6,517.6 849.7,522.1 849.9,520.4 850.0,521.4 850.1,526.3 850.2,518.8 850.4,527.5 850.5,513.3 850.6,516.5 850.7,526.7 850.9,518.4 851.0,523.9 851.1,514.4 851.2,517.7 851.4,518.7 851.5,520.5 851.6,535.0 851.7,524.3 851.9,512.6 852.0,519.1 852.1,522.7 852.2,518.4 852.4,518.4 852.5,517.7 852.6,516.1 852.7,520.4 852.9,508.9 853.0,524.2 853.1,521.5 853.2,536.0 853.4,528.3 853.5,528.3 853.6,523.5 853.7,526.4 853.9,529.5 854.0,529.5 854.1,520.1 854.2,527.5 854.4,545.7 854.5,536.4 854.6,523.8 854.7,538.9 854.9,527.7 855.0,523.0 855.1,527.8 855.2,507.1 855.4,536.7 855.5,513.4 855.6,533.2 855.7,528.0 855.9,538.0 856.0,533.4 856.1,533.4 856.2,520.7 856.4,526.2 856.5,524.4 856.6,535.8 856.7,530.3 856.9,523.6 857.0,522.7 857.1,526.4 857.2,515.4 857.4,520.2 857.5,518.6 857.6,526.6 857.7,535.0 857.9,532.8 858.0,538.7 858.1,537.5 858.2,523.1 858.4,525.9 858.5,546.9 858.6,525.0 858.7,544.1 858.9,519.8 859.0,521.6 859.1,523.3 859.2,529.0 859.4,532.1 859.5,540.2 859.6,516.7 859.7,535.3 859.9,517.4 860.0,530.9 860.1,533.0 860.2,524.9 860.4,530.8 860.5,527.7 860.6,537.4 860.7,517.1 860.9,519.5 861.0,528.5 861.1,526.5 861.2,543.7 861.4,532.6 861.5,525.5 861.6,536.0 861.7,545.0 861.9,519.2 862.0,522.6 862.1,537.0 862.2,533.5 862.4,527.2 862.5,522.5 862.6,526.1 862.7,524.2 862.9,534.5 863.0,549.1 863.1,540.5 863.2,526.0 863.4,521.4 863.5,533.2 863.6,533.1 863.7,524.0 863.9,528.9 864.0,536.6 864.1,525.9 864.2,525.0 864.4,521.3 864.5,543.1 864.6,528.9 864.7,533.2 864.9,526.9 865.0,522.3 865.1,524.1 865.2,526.0 865.4,555.8 865.5,537.9 865.6,526.0 865.7,535.5 865.9,527.0 866.0,524.1 866.1,532.2 866.2,522.3 866.4,541.9 866.5,518.1 866.6,519.0 866.7,523.3 866.9,528.0 867.0,527.1 867.1,519.8 867.2,534.5 867.4,527.1 867.5,529.1 867.6,531.2 867.7,535.7 867.9,521.6 868.0,533.4 868.1,534.5 868.2,524.3 868.4,519.9 868.5,540.7 868.6,526.2 868.7,530.2 868.9,529.2 869.0,536.9 869.1,549.3 869.2,539.4 869.4,532.4 869.5,515.9 869.6,537.0 869.7,519.9 869.9,533.5 870.0,547.7 870.1,519.1 870.2,526.2 870.4,521.6 870.5,531.2 870.6,530.1 870.7,527.1 870.9,530.1 871.0,543.3 871.1,522.4 871.2,527.0 871.4,525.1 871.5,521.4 871.6,531.1 871.7,533.2 871.9,518.9 872.0,521.4 872.1,520.5 872.2,523.1 872.4,531.0 872.5,527.8 872.6,526.8 872.7,530.9 872.9,515.5 873.0,526.8 873.1,518.7 873.2,535.3 873.4,523.0 873.5,527.7 873.6,527.7 873.7,527.7 873.9,523.8 874.0,524.8 874.1,530.7 874.2,531.8 874.4,528.6 874.5,537.6 874.6,538.8 874.7,525.6 874.9,528.6 875.0,521.9 875.1,524.6 875.2,531.7 875.4,525.5 875.5,526.5 875.6,518.5 875.7,526.6 875.9,523.8 876.0,536.5 876.1,525.8 876.2,527.8 876.4,515.6 876.5,535.5 876.6,527.0 876.7,524.2 876.9,534.5 877.0,529.2 877.1,538.2 877.2,539.5 877.4,523.6 877.5,543.6 877.6,522.8 877.7,537.3 877.9,510.5 878.0,541.2 878.1,525.8 878.2,520.5 878.4,540.1 878.5,532.0 878.6,526.0 878.7,532.1 878.9,526.1 879.0,533.3 879.1,541.7 879.2,510.5 879.4,544.5 879.5,525.5 879.6,528.4 879.7,535.9 879.9,538.3 880.0,539.6 880.1,546.3 880.2,530.7 880.4,543.6 880.5,524.2 880.6,537.5 880.7,543.8 880.9,540.0 881.0,522.7 881.1,526.3 881.2,536.6 881.4,540.2 881.5,533.4 881.6,530.3 881.7,530.3 881.9,536.7 882.0,544.2 882.1,539.1 882.2,532.4 882.4,539.1 882.5,535.6 882.6,531.4 882.7,541.6 882.9,527.5 883.0,527.5 883.1,530.4 883.2,532.5 883.4,539.2 883.5,533.6 883.6,534.6 883.7,539.3 883.9,539.3 884.0,538.1 884.1,523.1 884.2,533.6 884.4,535.8 884.5,531.6 884.6,530.6 884.7,532.6 884.9,532.6 885.0,538.2 885.1,527.7 885.2,535.9 885.4,532.7 885.5,526.8 885.6,550.2 885.7,537.1 885.9,534.9 886.0,556.8 886.1,531.7 886.2,532.8 886.4,526.9 886.5,522.5 886.6,544.6 886.7,547.4 886.9,553.5 887.0,543.3 887.1,528.8 887.2,544.7 887.4,544.7 887.5,548.9 887.6,527.9 887.7,537.2 887.9,537.2 888.0,527.8 888.1,533.8 888.2,542.0 888.4,538.3 888.5,545.9 888.6,537.1 888.7,548.8 888.9,534.9 889.0,537.1 889.1,547.3 889.2,540.6 889.4,548.7 889.5,530.6 889.6,558.4 889.7,533.7 889.9,540.6 890.0,528.6 890.1,550.1 890.2,530.5 890.4,543.1 890.5,541.8 890.6,538.1 890.7,540.5 890.9,550.0 891.0,528.5 891.1,531.5 891.2,540.4 891.4,534.6 891.5,538.0 891.6,533.5 891.7,525.6 891.9,533.5 892.0,526.5 892.1,527.5 892.2,530.4 892.4,537.9 892.5,553.0 892.6,532.4 892.7,531.3 892.9,535.6 893.0,540.3 893.1,556.3 893.2,544.1 893.4,539.0 893.5,531.2 893.6,533.3 893.7,544.0 893.9,545.3 894.0,527.2 894.1,540.0 894.2,536.4 894.4,532.0 894.5,535.2 894.6,556.0 894.7,537.5 894.9,554.2 895.0,531.9 895.1,524.1 895.2,525.9 895.4,541.0 895.5,542.2 895.6,547.7 895.7,528.6 895.9,539.6 896.0,520.5 896.1,532.6 896.2,535.9 896.4,538.2 896.5,528.4 896.6,535.8 896.7,534.7 896.9,536.9 897.0,536.9 897.1,533.5 897.2,527.3 897.4,525.4 897.5,528.2 897.6,525.3 897.7,535.5 897.9,530.1 898.0,536.6 898.1,523.4 898.2,525.1 898.4,532.1 898.5,532.0 898.6,524.1 898.7,535.3 898.9,534.1 899.0,533.0 899.1,532.9 899.2,523.1 899.4,533.9 899.5,525.7 899.6,532.7 899.7,533.7 899.9,533.7 900.0,538.3 900.1,532.4 900.2,533.5 900.4,524.3 900.5,524.2 900.6,523.2 900.7,525.0 900.9,534.3 901.0,517.9 901.1,541.6 901.2,540.2 901.4,524.7 901.5,524.6 901.6,527.5 901.7,515.2 901.9,521.7 902.0,537.3 902.1,524.4 902.2,521.8 902.4,532.8 902.5,535.2 902.6,541.5 902.7,533.0 902.9,539.1 903.0,531.0 903.1,524.1 903.2,532.2 903.4,538.1 903.5,534.6 903.6,516.8 903.7,520.1 903.9,527.4 904.0,523.8 904.1,516.3 904.2,524.8 904.4,529.8 904.5,526.9 904.6,541.4 904.7,526.1 904.9,541.6 905.0,529.1 905.1,532.3 905.2,531.2 905.4,541.7 905.5,531.3 905.6,539.2 905.7,531.3 905.9,547.4 906.0,527.4 906.1,520.3 906.2,540.6 906.4,535.8 906.5,534.7 906.6,529.4 906.7,528.5 906.9,519.6 907.0,531.5 907.1,543.4 907.2,539.5 907.4,538.3 907.5,527.6 907.6,530.6 907.7,542.2 907.9,528.6 908.0,526.7 908.1,520.6 908.2,538.5 908.4,530.7 908.5,538.5 908.6,538.5 908.7,525.0 908.9,521.6 909.0,526.9 909.1,526.9 909.2,539.9 909.4,538.7 909.5,536.3 909.6,535.2 909.7,536.3 909.9,545.0 910.0,527.8 910.1,524.1 910.2,538.5 910.4,541.0 910.5,530.7 910.6,544.9 910.7,530.6 910.9,537.2 911.0,539.6 911.1,537.1 911.2,540.8 911.4,530.5 911.5,531.5 911.6,533.6 911.7,532.5 911.9,532.5 912.0,529.4 912.1,523.7 912.2,528.3 912.4,543.2 912.5,516.2 912.6,532.3 912.7,524.5 912.9,541.7 913.0,532.3 913.1,545.8 913.2,540.4 913.4,526.3 913.5,538.1 913.6,539.4 913.7,534.7 913.9,537.0 914.0,552.2 914.1,533.8 914.2,537.2 914.4,526.8 914.5,539.7 914.6,539.8 914.7,538.6 914.9,536.3 915.0,523.4 915.1,540.0 915.2,534.2 915.4,533.2 915.5,542.7 915.6,531.2 915.7,536.7 915.9,539.1 916.0,547.0 916.1,535.7 916.2,544.3 916.4,525.8 916.5,534.8 916.6,532.7 916.7,548.8 916.9,529.8 917.0,536.1 917.1,542.1 917.2,525.3 917.4,543.5 917.5,552.1 917.6,537.4 917.7,535.2 917.9,538.5 918.0,550.5 918.1,549.0 918.2,542.1 918.4,544.7 918.5,538.4 918.6,536.1 918.7,530.8 918.9,555.1 919.0,529.8 919.1,531.7 919.2,532.8 919.4,541.9 919.5,532.7 919.6,527.7 919.7,543.2 919.9,533.7 920.0,544.4 920.1,537.0 920.2,543.1 920.4,524.0 920.5,551.6 920.6,534.6 920.7,539.2 920.9,536.8 921.0,536.8 921.1,538.0 921.2,530.3 921.4,544.2 921.5,549.9 921.6,522.0 921.7,537.8 921.9,536.7 922.0,524.6 922.1,528.2 922.2,540.2 922.4,535.4 922.5,525.4 922.6,532.1 922.7,543.9 922.9,541.4 923.0,532.2 923.1,545.4 923.2,533.3 923.4,541.5 923.5,530.3 923.6,533.4 923.7,544.2 923.9,530.3 924.0,532.4 924.1,544.3 924.2,528.5 924.4,532.5 924.5,541.7 924.6,525.8 924.7,533.6 924.9,538.1 925.0,541.8 925.1,543.2 925.2,545.9 925.4,541.9 925.5,544.6 925.6,527.8 925.7,538.3 925.9,526.9 926.0,527.0 926.1,546.1 926.2,540.9 926.4,532.9 926.5,537.3 926.6,539.7 926.7,539.8 926.9,538.6 927.0,537.5 927.1,523.7 927.2,546.3 927.4,545.0 927.5,538.7 927.6,538.8 927.7,542.5 927.9,535.4 928.0,533.3 928.1,541.3 928.2,542.6 928.4,521.5 928.5,539.0 928.6,554.1 928.7,540.2 928.9,536.7 929.0,545.3 929.1,530.5 929.2,529.5 929.4,534.6 929.5,539.1 929.6,535.7 929.7,536.8 929.9,534.6 930.0,541.5 930.1,548.2 930.2,539.1 930.4,530.6 930.5,538.0 930.6,551.2 930.7,554.3 930.9,535.8 931.0,552.7 931.1,541.6 931.2,541.7 931.4,539.3 931.5,540.5 931.6,532.7 931.7,534.8 931.9,528.8 932.0,549.8 932.1,548.4 932.2,540.5 932.4,540.5 932.5,552.9 932.6,532.8 932.7,532.8 932.9,539.4 933.0,537.1 933.1,544.4 933.2,547.1 933.4,541.9 933.5,547.1 933.6,539.5 933.7,559.7 933.9,531.9 934.0,535.0 934.1,553.1 934.2,556.3 934.4,553.1 934.5,548.6 934.6,554.7 934.7,535.1 934.9,533.0 935.0,558.1 935.1,524.7 935.2,540.8 935.4,529.2 935.5,545.9 935.6,548.7 935.7,556.5 935.9,539.7 936.0,533.1 936.1,539.7 936.2,542.1 936.4,537.3 936.5,548.6 936.6,556.3 936.7,567.6 936.9,565.5 937.0,551.5 937.1,557.9 937.2,545.7 937.4,532.8 937.5,545.6 937.6,540.5 937.7,534.8 937.9,529.7 938.0,535.8 938.1,536.9 938.2,538.0 938.4,539.1 938.5,534.6 938.6,551.0 938.7,536.7 938.9,542.7 939.0,542.6 939.1,536.6 939.2,537.7 939.4,536.6 939.5,538.8 939.6,529.3 939.7,542.4 939.9,552.3 940.0,537.5 940.1,553.8 940.2,530.1 940.4,526.3 940.5,547.7 940.6,541.1 940.7,539.9 940.9,573.7 941.0,535.3 941.1,531.1 941.2,542.4 941.4,536.5 941.5,528.3 941.6,550.8 941.7,535.4 941.9,538.9 942.0,543.8 942.1,529.4 942.2,524.8 942.4,543.9 942.5,540.2 942.6,542.7 942.7,559.3 942.9,559.3 943.0,552.6 943.1,542.8 943.2,532.6 943.4,535.7 943.5,540.4 943.6,536.9 943.7,538.1 943.9,549.7 944.0,539.3 944.1,540.5 944.2,529.8 944.4,537.0 944.5,539.4 944.6,557.9 944.7,556.2 944.9,545.7 945.0,540.6 945.1,547.1 945.2,535.0 945.4,543.2 945.5,530.0 945.6,547.2 945.7,553.1 945.9,558.1 946.0,548.7 946.1,540.9 946.2,553.2 946.4,540.9 946.5,544.7 946.6,546.0 946.7,543.3 946.9,538.5 947.0,536.2 947.1,545.9 947.2,540.8 947.4,550.1 947.5,540.8 947.6,553.1 947.7,538.4 947.9,550.0 948.0,536.1 948.1,540.7 948.2,538.3 948.4,540.7 948.5,545.7 948.6,548.5 948.7,534.9 948.9,544.4 949.0,541.8 949.1,536.0 949.2,538.2 949.4,538.2 949.5,559.6 949.6,556.1 949.7,533.8 949.9,535.9 950.0,548.3 950.1,532.7 950.2,526.9 950.4,557.7 950.5,531.6 950.6,532.6 950.7,555.9 950.9,544.0 951.0,548.1 951.1,545.3 951.2,535.6 951.4,528.5 951.5,536.6 951.6,546.6 951.7,532.3 951.9,538.9 952.0,531.2 952.1,531.2 952.2,533.2 952.4,529.2 952.5,528.2 952.6,529.2 952.7,532.1 952.9,539.8 953.0,542.3 953.1,539.8 953.2,539.7 953.4,560.6 953.5,562.5 953.6,544.8 953.7,532.9 953.9,538.4 954.0,533.9 954.1,547.4 954.2,551.9 954.4,534.9 954.5,536.0 954.6,534.9 954.7,558.5 954.9,539.4 955.0,540.6 955.1,531.6 955.2,550.2 955.4,539.4 955.5,544.5 955.6,545.9 955.7,532.7 955.9,533.8 956.0,529.8 956.1,543.3 956.2,535.0 956.4,547.4 956.5,542.1 956.6,548.9 956.7,542.1 956.9,538.5 957.0,534.0 957.1,533.0 957.2,534.0 957.4,521.1 957.5,539.8 957.6,534.1 957.7,529.1 957.9,534.1 958.0,555.4 958.1,549.2 958.2,555.5 958.4,539.9 958.5,533.2 958.6,526.4 958.7,549.3 958.9,538.8 959.0,537.6 959.1,552.4 959.2,538.8 959.4,541.3 959.5,533.4 959.6,545.2 959.7,540.1 959.9,538.9 960.0,563.0 960.1,551.0 960.2,537.8 960.4,549.5 960.5,520.8 960.6,546.7 960.7,525.9 960.9,535.7 961.0,555.9 961.1,545.4 961.2,531.5 961.4,533.6 961.5,531.5 961.6,561.2 961.7,544.1 961.9,552.6 962.0,536.8 962.1,542.8 962.2,539.1 962.4,542.8 962.5,521.6 962.6,549.6 962.7,552.6 962.9,534.6 963.0,540.3 963.1,544.0 963.2,549.6 963.4,546.7 963.5,544.0 963.6,537.9 963.7,540.2 963.9,541.5 964.0,533.5 964.1,552.6 964.2,545.3 964.4,536.7 964.5,539.0 964.6,533.5 964.7,563.0 964.9,542.7 965.0,534.5 965.1,544.0 965.2,535.6 965.4,545.3 965.5,542.7 965.6,549.5 965.7,529.4 965.9,546.6 966.0,530.4 966.1,548.0 966.2,546.6 966.4,548.0 966.5,542.6 966.6,536.7 966.7,546.6 966.9,542.6 967.0,527.5 967.1,545.2 967.2,536.6 967.4,571.5 967.5,526.6 967.6,543.9 967.7,533.4 967.9,538.9 968.0,541.3 968.1,531.3 968.2,531.3 968.4,536.6 968.5,542.6 968.6,547.9 968.7,543.8 968.9,527.5 969.0,554.0 969.1,542.5 969.2,535.5 969.4,537.7 969.5,532.3 969.6,548.0 969.7,531.3 969.9,549.4 970.0,548.0 970.1,534.5 970.2,536.7 970.4,545.2 970.5,537.8 970.6,541.4 970.7,534.5 970.9,537.8 971.0,542.7 971.1,532.4 971.2,544.0 971.4,544.0 971.5,534.5 971.6,535.6 971.7,539.0 971.9,549.5 972.0,546.7 972.1,531.5 972.2,544.0 972.4,548.1 972.5,531.5 972.6,540.3 972.7,542.8 972.9,534.6 973.0,528.6 973.1,536.8 973.2,539.1 973.4,531.6 973.5,536.9 973.6,539.2 973.7,521.7 973.9,534.7 974.0,546.8 974.1,544.1 974.2,538.0 974.4,529.7 974.5,554.3 974.6,544.2 974.7,538.1 974.9,554.4 975.0,542.9 975.1,552.8 975.2,537.0 975.4,533.8 975.5,547.0 975.6,530.8 975.7,538.2 975.9,548.4 976.0,544.4 976.1,543.1 976.2,549.9 976.4,536.1 976.5,545.8 976.6,539.5 976.7,547.2 976.9,534.0 977.0,545.9 977.1,538.4 977.2,534.1 977.4,544.6 977.5,553.2 977.6,548.7 977.7,536.3 977.9,538.6 978.0,539.8 978.1,536.4 978.2,536.4 978.4,533.2 978.5,555.0 978.6,553.4 978.7,547.5 978.9,533.3 979.0,549.0 979.1,560.2 979.2,532.4 979.4,528.6 979.5,533.4 979.6,530.5 979.7,538.9 979.9,542.5 980.0,555.2 980.1,552.1 980.2,562.2 980.4,549.1 980.5,552.1 980.6,537.8 980.7,537.8 980.9,546.4 981.0,540.2 981.1,562.3 981.2,547.8 981.4,539.0 981.5,553.7 981.6,547.9 981.7,540.2 981.9,549.3 982.0,552.2 982.1,543.9 982.2,542.7 982.4,557.1 982.5,557.1 982.6,533.8 982.7,558.8 982.9,531.8 983.0,535.9 983.1,553.9 983.2,562.5 983.4,545.4 983.5,557.2 983.6,541.6 983.7,545.4 983.9,539.3 984.0,549.5 984.1,551.0 984.2,554.0 984.4,555.6 984.5,545.5 984.6,548.2 984.7,542.9 984.9,555.7 985.0,541.8 985.1,540.6 985.2,543.0 985.4,546.9 985.5,543.0 985.6,559.1 985.7,548.3 985.9,548.3 986.0,562.8 986.1,543.1 986.2,529.3 986.4,537.3 986.5,552.7 986.6,557.5 986.7,549.8 986.9,544.4 987.0,562.9 987.1,549.8 987.2,540.8 987.4,551.2 987.5,564.8 987.6,557.5 987.7,552.7 987.9,559.2 988.0,559.2 988.1,538.5 988.2,552.7 988.4,559.2 988.5,551.2 988.6,559.2 988.7,539.6 988.9,535.2 989.0,552.7 989.1,554.3 989.2,555.9 989.4,559.2 989.5,549.8 989.6,562.9 989.7,545.7 989.9,544.4 990.0,554.3 990.1,548.4 990.2,557.5 990.4,566.8 990.5,530.3 990.6,539.6 990.7,545.7 990.9,559.2 991.0,539.6 991.1,562.9 991.2,552.7 991.4,557.5 991.5,559.2 991.6,564.8 991.7,544.4 991.9,544.4 992.0,544.4 992.1,561.0 992.2,545.7 992.4,548.4 992.5,554.3 992.6,543.2 992.7,547.0 992.9,554.3 993.0,538.5 993.1,552.7 993.2,554.3 993.4,555.9 993.5,545.7 993.6,554.3 993.7,545.7 993.9,552.7 994.0,545.7 994.1,547.0 994.2,544.4 994.4,562.9 994.5,557.5 994.6,557.6 994.7,548.4 994.9,543.2 995.0,554.3 995.1,547.1 995.2,535.3 995.4,548.5 995.5,548.5 995.6,544.6 995.7,559.4 995.9,540.9 996.0,559.4 996.1,548.6 996.2,567.0 996.4,536.5 996.5,556.1 996.6,541.0 996.7,537.6 996.9,553.0 997.0,569.1 997.1,550.1 997.2,553.0 997.4,543.5 997.5,542.3 997.6,543.5 997.7,544.8 997.9,536.6 998.0,556.3 998.1,547.4 998.2,544.8 998.4,578.7 998.5,556.3 998.6,553.2 998.7,535.7 998.9,544.9 999.0,558.0 999.1,550.3 999.2,547.5 999.4,546.2 999.5,548.9 999.6,554.8 999.7,561.6 999.9,540.2 1000.0,537.9 1000.1,573.9 1000.2,559.8 1000.4,553.4 1000.5,571.7 1000.6,554.9 1000.7,541.4 1000.9,551.9 1001.0,558.2 1001.1,561.7 1001.2,559.9 1001.4,549.1 1001.5,543.9 1001.6,536.0 1001.7,546.5 1001.9,552.0 1002.0,550.6 1002.1,560.0 1002.2,555.1 1002.4,553.5 1002.5,542.7 1002.6,553.5 1002.7,561.8 1002.9,552.0 1003.0,547.8 1003.1,555.1 1003.2,545.2 1003.4,547.8 1003.5,555.1 1003.6,537.1 1003.7,553.5 1003.9,545.2 1004.0,547.8 1004.1,550.6 1004.2,537.1 1004.4,581.8 1004.5,558.4 1004.6,560.1 1004.7,549.2 1004.9,546.5 1005.0,558.4 1005.1,541.6 1005.2,558.4 1005.4,542.8 1005.5,542.8 1005.6,546.6 1005.7,561.9 1005.9,539.3 1006.0,550.7 1006.1,561.9 1006.2,558.4 1006.4,549.3 1006.5,565.6 1006.6,560.1 1006.7,574.2 1006.9,545.3 1007.0,542.8 1007.1,555.2 1007.2,560.1 1007.4,558.4 1007.5,546.6 1007.6,539.4 1007.7,532.1 1007.9,547.9 1008.0,545.3 1008.1,546.6 1008.2,539.4 1008.4,544.1 1008.5,542.9 1008.6,552.2 1008.7,550.7 1008.9,556.8 1009.0,549.3 1009.1,540.5 1009.2,549.3 1009.4,542.9 1009.5,548.0 1009.6,550.7 1009.7,549.3 1009.9,544.1 1010.0,544.1 1010.1,545.4 1010.2,548.0 1010.4,546.7 1010.5,555.2 1010.6,538.3 1010.7,544.1 1010.9,548.0 1011.0,546.7 1011.1,544.1 1011.2,542.9 1011.4,563.8 1011.5,545.4 1011.6,558.5 1011.7,550.8 1011.9,548.0 1012.0,548.0 1012.1,555.3 1012.2,548.0 1012.4,534.2 1012.5,555.3 1012.6,553.8 1012.7,556.9 1012.9,546.7 1013.0,550.8 1013.1,548.1 1013.2,558.6 1013.4,549.4 1013.5,550.8 1013.6,555.3 1013.7,540.6 1013.9,552.3 1014.0,548.1 1014.1,553.8 1014.2,550.9 1014.4,552.3 1014.5,556.9 1014.6,548.1 1014.7,544.2 1014.9,562.1 1015.0,555.4 1015.1,567.9 1015.2,534.3 1015.4,560.3 1015.5,540.7 1015.6,550.9 1015.7,552.3 1015.9,539.6 1016.0,562.1 1016.1,548.1 1016.2,548.1 1016.4,545.5 1016.5,552.4 1016.6,570.0 1016.7,574.5 1016.9,560.3 1017.0,553.8 1017.1,553.8 1017.2,558.6 1017.4,535.3 1017.5,543.0 1017.6,579.4 1017.7,548.1 1017.9,544.2 1018.0,545.5 1018.1,556.9 1018.2,556.9 1018.4,560.3 1018.5,562.1 1018.6,548.1 1018.7,550.9 1018.9,549.5 1019.0,552.3 1019.1,552.3 1019.2,558.6 1019.4,550.8 1019.5,538.4 1019.6,550.8 1019.7,537.3 1019.9,543.0 1020.0,544.2 1020.1,555.3 1020.2,553.8 1020.4,562.0 1020.5,552.3 1020.6,549.4 1020.7,567.8 1020.9,534.2 1021.0,553.7 1021.1,553.7 1021.2,541.8 1021.4,558.5 1021.5,565.8 1021.6,542.9 1021.7,562.0 1021.9,553.7 1022.0,550.8 1022.1,553.7 1022.2,572.0 1022.4,555.3 1022.5,548.0 1022.6,548.0 1022.7,550.8 1022.9,550.8 1023.0,556.8 1023.1,555.2 1023.2,532.2 1023.4,545.4 1023.5,560.2 1023.6,545.4 1023.7,555.2 1023.9,552.2 1024.0,544.1 1024.1,539.4 1024.2,582.0 1024.3,555.3 1024.5,550.9 1024.6,553.8 1024.7,537.4 1024.8,557.0 1025.0,549.6 1025.1,549.6 1025.2,574.6 1025.3,540.9 1025.5,547.0 1025.6,552.6 1025.7,568.1 1025.8,541.0 1026.0,555.7 1026.1,570.3 1026.2,557.3 1026.3,541.1 1026.5,541.1 1026.6,546.0 1026.7,564.4 1026.8,568.4 1027.0,555.9 1027.1,546.1 1027.2,564.6 1027.3,575.1 1027.5,559.3 1027.6,557.7 1027.7,550.2 1027.8,566.6 1028.0,568.6 1028.1,559.4 1028.2,561.2 1028.3,557.8 1028.5,553.2 1028.6,546.4 1028.7,559.6 1028.8,557.9 1029.0,547.8 1029.1,547.8 1029.2,540.6 1029.3,575.5 1029.5,552.0 1029.6,549.3 1029.7,552.1 1029.8,550.7 1030.0,544.3 1030.1,550.8 1030.2,556.7 1030.3,571.3 1030.5,555.2 1030.6,553.7 1030.7,560.0 1030.8,552.3 1031.0,556.8 1031.1,553.8 1031.2,556.9 1031.3,561.8 1031.5,563.5 1031.6,563.5 1031.7,561.7 1031.8,545.6 1032.0,558.3 1032.1,556.7 1032.2,561.6 1032.3,544.3 1032.5,567.1 1032.6,558.1 1032.7,559.8 1032.8,552.0 1033.0,549.2 1033.1,563.1 1033.2,559.6 1033.3,549.1 1033.5,559.6 1033.6,546.4 1033.7,556.3 1033.8,566.7 1034.0,570.8 1034.1,546.3 1034.2,559.4 1034.3,557.7 1034.5,548.8 1034.6,551.6 1034.7,556.0 1034.8,562.7 1035.0,548.7 1035.1,559.2 1035.2,551.4 1035.3,551.4 1035.5,546.0 1035.6,551.3 1035.7,552.7 1035.8,551.3 1036.0,559.0 1036.1,542.3 1036.2,555.8 1036.3,547.2 1036.5,566.3 1036.6,562.5 1036.7,552.8 1036.8,559.1 1037.0,552.8 1037.1,541.1 1037.2,555.8 1037.3,538.9 1037.5,557.4 1037.6,546.0 1037.7,572.6 1037.8,551.4 1038.0,554.3 1038.1,544.7 1038.2,560.8 1038.3,543.5 1038.5,550.0 1038.6,543.5 1038.7,557.5 1038.8,557.5 1039.0,550.0 1039.1,560.9 1039.2,555.9 1039.3,546.0 1039.5,539.0 1039.6,542.4 1039.7,564.5 1039.8,564.5 1040.0,555.9 1040.1,570.5 1040.2,541.3 1040.3,560.9 1040.5,554.4 1040.6,570.5 1040.7,577.4 1040.8,559.2 1041.0,547.4 1041.1,559.2 1041.2,560.9 1041.3,568.5 1041.5,560.9 1041.6,554.4 1041.7,546.1 1041.8,546.1 1042.0,540.2 1042.1,561.0 1042.2,564.6 1042.3,561.0 1042.5,562.8 1042.6,561.0 1042.7,540.2 1042.8,570.6 1043.0,550.2 1043.1,557.6 1043.2,553.0 1043.3,554.5 1043.5,541.4 1043.6,545.0 1043.7,553.0 1043.8,580.1 1044.0,554.5 1044.1,546.2 1044.2,566.6 1044.3,566.6 1044.5,550.2 1044.6,575.2 1044.7,548.9 1044.8,551.6 1045.0,556.1 1045.1,562.8 1045.2,543.8 1045.3,582.8 1045.5,561.1 1045.6,566.6 1045.7,566.6 1045.8,551.7 1046.0,575.2 1046.1,546.3 1046.2,556.2 1046.3,553.2 1046.5,564.8 1046.6,575.3 1046.7,561.2 1046.8,549.0 1047.0,570.9 1047.1,559.5 1047.2,557.9 1047.3,561.3 1047.5,546.5 1047.6,545.2 1047.7,544.0 1047.8,559.6 1048.0,550.5 1048.1,566.9 1048.2,559.7 1048.3,583.1 1048.5,544.1 1048.6,571.0 1048.7,549.2 1048.8,567.0 1049.0,549.3 1049.1,563.3 1049.2,567.0 1049.3,561.5 1049.5,567.1 1049.6,541.9 1049.7,558.2 1049.8,550.7 1050.0,559.9 1050.1,555.1 1050.2,550.8 1050.3,553.6 1050.5,567.2 1050.6,553.7 1050.7,549.5 1050.8,569.2 1051.0,565.3 1051.1,555.2 1051.2,556.8 1051.3,560.0 1051.5,563.5 1051.6,553.8 1051.7,558.4 1051.8,553.8 1052.0,553.8 1052.1,558.5 1052.2,556.9 1052.3,553.9 1052.5,565.5 1052.6,556.9 1052.7,548.4 1052.8,551.1 1053.0,561.9 1053.1,563.7 1053.2,578.5 1053.3,555.5 1053.5,557.1 1053.6,557.1 1053.7,549.8 1053.8,589.7 1053.6,549.0 1053.7,587.5"/>
<polyline stroke="#00f" stroke-width="1.45" points="154.3,649.3 154.5,645.1 154.8,637.7 155.0,645.1 155.2,652.5 155.5,648.0 155.7,652.5 156.0,654.9 156.2,652.5 156.4,657.5 156.7,648.0 156.9,650.2 157.1,645.9 157.4,645.9 157.6,657.5 157.9,657.5 158.1,648.0 158.3,654.9 158.6,660.1 158.8,672.8 159.0,672.8 159.3,660.1 159.5,654.9 159.8,660.1 160.0,652.3 160.2,650.0 160.5,643.7 160.7,636.5 160.9,642.0 161.2,645.9 161.4,645.9 161.6,643.9 161.9,650.2 162.1,650.2 162.4,654.9 162.6,654.9 162.8,650.2 163.1,652.5 163.3,666.0 163.5,672.8 163.8,672.8 164.0,669.3 164.3,654.9 164.5,650.2 164.7,650.2 165.0,669.3 165.2,666.0 165.4,666.0 165.7,654.9 165.9,645.9 166.2,654.9 166.4,652.5 166.6,650.2 166.9,643.9 167.1,640.2 167.3,642.0 167.6,642.0 167.8,642.0 168.1,645.9 168.3,654.9 168.5,657.5 168.8,652.5 169.0,654.9 169.2,663.0 169.5,666.0 169.7,652.5 169.9,652.5 170.2,652.5 170.4,650.2 170.7,650.2 170.9,650.2 171.1,654.9 171.4,657.5 171.6,663.0 171.8,672.8 172.1,679.7 172.3,679.7 172.6,679.7 172.8,669.3 173.0,654.9 173.3,652.5 173.5,652.5 173.7,660.1 174.0,663.0 174.2,660.1 174.5,660.1 174.7,643.1 174.9,647.2 175.2,649.3 175.4,653.9 175.6,660.1 175.9,663.0 176.1,660.1 176.3,666.0 176.6,657.5 176.8,654.9 177.1,654.9 177.3,660.1 177.5,663.0 177.8,666.0 178.0,657.5 178.2,648.0 178.5,648.0 178.7,648.0 179.0,648.0 179.2,643.3 179.4,637.9 179.7,641.4 179.9,645.3 180.1,654.9 180.4,663.0 180.6,660.1 180.9,657.5 181.1,660.1 181.3,650.2 181.6,654.9 181.8,660.1 182.0,652.5 182.3,660.1 182.5,638.0 182.8,639.8 183.0,645.5 183.2,657.5 183.5,660.1 183.7,652.5 183.9,650.2 184.2,650.2 184.4,663.0 184.6,657.5 184.9,652.5 185.1,645.9 185.4,642.0 185.6,648.0 185.8,648.0 186.1,654.9 186.3,666.0 186.5,660.1 186.8,672.8 187.0,669.3 187.3,663.0 187.5,660.1 187.7,657.5 188.0,660.1 188.2,666.0 188.4,663.0 188.7,660.1 188.9,657.5 189.2,657.5 189.4,652.5 189.6,640.2 189.9,636.7 190.1,643.9 190.3,654.9 190.6,672.8 190.8,679.7 191.0,669.3 191.3,660.1 191.5,657.5 191.8,666.0 192.0,650.2 192.2,650.2 192.5,645.7 192.7,652.3 192.9,645.7 193.2,643.7 193.4,650.2 193.7,643.9 193.9,640.2 194.1,638.4 194.4,645.9 194.6,650.2 194.8,657.5 195.1,663.0 195.3,654.9 195.6,644.9 195.8,644.9 196.0,644.9 196.3,672.8 196.5,679.7 196.7,666.0 197.0,650.2 197.2,642.0 197.5,643.9 197.7,645.9 197.9,654.9 198.2,654.9 198.4,654.9 198.6,666.0 198.9,666.0 199.1,657.5 199.3,650.2 199.6,654.9 199.8,652.5 200.1,663.0 200.3,666.0 200.5,660.1 200.8,650.2 201.0,643.9 201.2,642.0 201.5,640.2 201.7,668.0 201.9,640.0 202.2,600.0 203.0,520.0 203.6,450.0 204.0,400.0 204.2,310.0 205.4,268.2 206.7,244.6 208.7,222.9 210.8,214.0 211.7,206.8 213.5,200.3 215.8,191.4 218.2,186.1 220.8,181.1 222.9,180.8 224.4,177.8 225.6,200.9 227.3,194.4 229.4,190.8 230.9,190.2 232.1,193.2 233.6,190.2 234.7,186.1 237.1,187.6 239.5,186.4 242.4,187.3 245.4,186.4 247.7,184.0 251.3,182.0 256.0,180.6 259.6,179.9 264.6,179.2 273.2,177.2 279.8,175.9 283.7,176.9 287.0,174.9 295.0,175.2 296.3,175.9 298.9,174.9 305.5,174.9 308.8,175.9 310.3,179.5 311.8,177.2 315.4,176.5 318.7,175.9 321.4,177.5 324.0,177.2 328.0,175.6 329.0,174.9 334.6,174.2 338.1,180.5 339.2,184.9 343.2,187.9 344.7,192.3 347.7,190.8 349.9,193.4 351.0,197.9 352.5,203.0 353.6,210.4 354.4,217.1 355.8,220.5 356.2,232.0 356.6,240.0 357.2,255.0 357.9,277.0 358.5,299.1 359.7,310.2 361.6,289.3 363.0,265.9 364.6,280.6 365.2,273.3 366.5,289.3 368.3,281.9 369.6,291.7 370.8,288.0 372.6,293.0 373.9,297.9 374.5,313.9 375.3,321.9 376.6,323.7 377.1,330.9 490.1,332.4 490.1,338.8 490.5,340.0 490.6,340.3"/>
<polyline stroke="#00f" stroke-width="1.5" points="490.6,340.3 491.0,339.9 491.4,340.2 491.7,340.4 492.1,341.4 492.5,340.8 492.9,341.1 493.2,341.7 493.6,342.4 494.0,341.6 494.4,342.2 494.7,342.0 495.1,343.0 495.5,342.2 495.9,343.0 496.2,343.2 496.6,343.1 497.0,343.9 497.4,344.3 497.7,343.4 498.1,343.5 498.5,343.5 498.9,343.9 499.2,343.8 499.6,343.6 500.0,343.5 500.4,343.2 500.7,343.4 501.1,343.6 501.5,344.4 501.9,344.0 502.2,342.8 502.6,343.7 503.0,344.8 503.4,344.9 503.7,343.9 504.1,344.9 504.5,346.0 504.9,345.2 505.2,345.5 505.6,346.0 506.0,345.7 506.4,346.9 506.7,346.7 507.1,346.9 507.5,346.8 507.9,347.8 508.2,347.4 508.6,347.4 509.0,348.0 509.4,347.5 509.7,348.0 510.1,349.5 510.5,348.4 510.9,348.6 511.2,349.3 511.6,349.8 512.0,350.1 512.4,350.3 512.7,349.7 513.1,350.6 513.5,350.1 513.9,351.9 514.2,352.2 514.6,352.8 515.0,352.0 515.4,352.1 515.7,353.3 516.1,353.2 516.5,353.3 516.9,353.8 517.2,353.8 517.6,354.0 518.0,355.4 518.4,355.6 518.7,356.0 519.1,355.9 519.5,355.9 519.9,356.2 520.2,355.9 520.6,356.1 521.0,356.1 521.4,355.2 521.7,356.8 522.1,357.7 522.5,357.7 522.9,356.8 523.2,357.2 523.6,357.3 524.0,358.3 524.4,358.4 524.7,357.3 525.1,357.4 525.5,357.8 525.9,357.9 526.2,359.1 526.6,357.5 527.0,358.4 527.4,359.1 527.7,360.6 528.1,362.3 528.5,362.4 528.9,364.5 529.2,366.0 529.6,366.2 530.0,367.6 530.4,367.8 530.7,369.2 531.1,369.6 531.5,370.7 531.9,370.5 532.2,370.9 532.6,371.4 533.0,371.8 533.4,370.9 533.7,371.7 534.1,371.4 534.5,371.9 534.9,372.3 535.2,373.1 535.6,372.9 536.0,373.1 536.4,374.1 536.7,373.7 537.1,372.3 537.5,373.9 537.9,373.5 538.2,374.3 538.6,374.5 539.0,375.1 539.4,373.9 539.7,374.7 540.1,374.2 540.5,374.0 540.9,373.5 541.2,374.8 541.6,375.5 542.0,374.6 542.4,375.5 542.7,375.0 543.1,375.6 543.5,375.2 543.9,375.6 544.2,374.8 544.6,376.0 545.0,376.8 545.4,376.6 545.7,375.9 546.1,375.4 546.5,376.9 546.9,376.4 547.2,377.3 547.6,378.2 548.0,376.4 548.4,377.9 548.7,378.1 549.1,378.9 549.5,378.9 549.9,380.2 550.2,379.7 550.6,380.2 551.0,378.9 551.4,380.5 551.7,380.6 552.1,381.0 552.5,381.8 552.9,380.7 553.2,379.9 553.6,383.0 554.0,382.0 554.4,382.1 554.7,383.4 555.1,383.1 555.5,383.0 555.9,383.2 556.2,383.5 556.6,382.6 557.0,383.5 557.4,384.8 557.7,384.1 558.1,384.2 558.5,385.6 558.9,384.5 559.2,385.7 559.6,385.0 560.0,384.9 560.4,385.7 560.7,385.8 561.1,385.2 561.5,387.9 561.9,387.2 562.2,388.6 562.6,387.1 563.0,387.6 563.4,387.3 563.7,388.3 564.1,389.1 564.5,390.6 564.9,389.4 565.2,389.8 565.6,391.1 566.0,391.0 566.4,390.5 566.7,390.9 567.1,391.1 567.5,392.7 567.9,391.6 568.2,392.2 568.6,393.4 569.0,392.4 569.4,393.7 569.7,392.0 570.1,392.6 570.5,394.2 570.9,393.9 571.2,392.9 571.6,392.9 572.0,392.9 572.4,394.5 572.7,394.2 573.1,394.9 573.5,394.7 573.9,397.0 574.2,396.0 574.6,394.1 575.0,395.4 575.4,394.5 575.7,395.7 576.1,395.6 576.5,396.3 576.9,396.1 577.2,394.8 577.6,396.9 578.0,395.3 578.4,396.0 578.7,396.3 579.1,397.3 579.5,396.4 579.9,397.3 580.2,397.6 580.6,398.9 581.0,397.2 581.4,398.0 581.7,398.4 582.1,397.8 582.5,398.4 582.9,398.9 583.2,397.8 583.6,396.4 584.0,398.4 584.4,398.9 584.7,399.2 585.1,399.3 585.5,400.1 585.9,399.6 586.2,399.3 586.6,399.0 587.0,398.9 587.4,400.7 587.7,399.7 588.1,399.6 588.5,401.5 588.9,399.6 589.2,401.4 589.6,400.2 590.0,401.2 590.4,402.1 590.7,403.6 591.1,404.0 591.5,405.8 591.9,405.5 592.2,408.5 592.6,407.6 593.0,407.2 593.4,407.9 593.7,407.9 594.1,409.0 594.5,407.7 594.9,409.8 595.2,408.2 595.6,408.4 596.0,409.7 596.4,407.2 596.7,410.7 597.1,408.3 597.5,407.5 597.9,410.3 598.2,409.2 598.6,408.1 599.0,410.2 599.4,411.2 599.7,411.3 600.1,411.0 600.5,410.1 600.9,410.8 601.2,412.4 601.6,412.5 602.0,412.4 602.4,414.3 602.7,412.6 603.1,415.6 603.5,413.6 603.9,414.5 604.2,415.2 604.6,416.4 605.0,416.8 605.4,414.5 605.7,415.2 606.1,415.4 606.5,415.8 606.9,415.3 607.2,415.2 607.6,417.5 608.0,416.8 608.4,416.3 608.7,417.1 609.1,416.2 609.5,415.2 609.9,415.0 610.2,417.2 610.6,416.7 611.0,416.9 611.4,416.4 611.7,417.5 612.1,417.6 612.5,418.6 612.9,418.7 613.2,417.3 613.6,419.4 614.0,418.8 614.4,419.5 614.7,418.2 615.1,419.7 615.5,417.9 615.9,420.7 616.2,419.4 616.6,420.7 617.0,420.3 617.4,421.3 617.7,421.8 618.1,420.7 618.5,422.3 618.9,423.4 619.2,423.0 619.6,424.2 620.0,425.4 620.4,423.5 620.7,424.6 621.1,423.5 621.5,422.4 621.9,424.3 622.2,422.3 622.6,423.6 623.0,425.8 623.4,423.1 623.7,422.6 624.1,423.5 624.5,424.2 624.9,424.6 625.2,423.3 625.6,423.4 626.0,424.5 626.4,424.0 626.7,425.0 627.1,423.5 627.5,425.7 627.9,424.8 628.2,424.2 628.6,422.9 629.0,424.2 629.4,424.5 629.7,426.0 630.1,425.5 630.5,424.9 630.9,424.9 631.2,427.4 631.6,425.7 632.0,428.8 632.4,427.7 632.7,427.3 633.1,427.5 633.5,430.2 633.9,429.2 634.2,429.8 634.6,428.1 635.0,430.6 635.4,429.8 635.7,428.9 636.1,431.3 636.5,431.8 636.9,430.8 637.2,435.0 637.6,431.1 638.0,431.7 638.4,433.0 638.7,433.2 639.1,433.2 639.5,433.1 639.9,435.1 640.2,433.1 640.6,432.2 641.0,433.2 641.4,434.2 641.7,434.5 642.1,436.8 642.5,435.0 642.9,434.5 643.2,434.3 643.6,434.2 644.0,435.8 644.4,433.9 644.7,436.4 645.1,433.9 645.5,434.0 645.9,434.9 646.2,433.4 646.6,435.3 647.0,435.1 647.4,436.4 647.7,435.8 648.1,432.7 648.5,435.5 648.9,434.1 649.2,434.1 649.6,434.0 650.0,436.8 650.4,434.3 650.7,434.5 651.1,435.2 651.5,435.9 651.9,433.6 652.2,434.0 652.6,433.9 653.0,433.5 653.4,433.0 653.7,432.0 654.1,432.4 654.5,431.9 654.9,431.5 655.2,432.0 655.6,432.6 656.0,432.0 656.4,432.6 656.7,433.9 657.1,433.9 657.5,432.4 657.9,431.9 658.2,436.6 658.6,434.1 659.0,436.3 659.4,434.5 659.7,436.7 660.1,435.8 660.5,435.4 660.9,435.0 661.2,435.6 661.6,434.8 662.0,436.2 662.4,435.9 662.7,436.4 663.1,436.4 663.5,434.7 663.9,436.1 664.2,435.8 664.6,437.0 665.0,437.4 665.4,435.2 665.7,433.4 666.1,435.9 666.5,436.0 666.9,435.4 667.2,437.0 667.6,436.9 668.0,438.2 668.4,436.6 668.7,438.5 669.1,438.4 669.5,438.6 669.9,440.3 670.2,438.9 670.6,439.7 671.0,441.2 671.4,438.9 671.7,441.8 672.1,440.5 672.5,439.0 672.9,442.9 673.2,443.2 673.6,441.7 674.0,440.8 674.4,440.0 674.7,442.3 675.1,443.9 675.5,440.7 675.9,442.5 676.2,444.4 676.6,443.9 677.0,442.7 677.4,445.4 677.7,442.1 678.1,444.4 678.5,445.1 678.9,442.6 679.2,443.5 679.6,443.8 680.0,447.3 680.4,444.2 680.7,444.5 681.1,444.1 681.5,447.8 681.9,447.6 682.2,444.6 682.6,445.0 683.0,446.6 683.4,446.4 683.7,446.7 684.1,445.7 684.5,444.9 684.9,447.2 685.2,446.1 685.6,450.3 686.0,447.6 686.4,447.8 686.7,448.1 687.1,447.1 687.5,448.1 687.9,446.6 688.2,448.1 688.6,449.0 689.0,448.5 689.4,445.4 689.7,449.3 690.1,448.0 690.5,450.4 690.9,449.7 691.2,449.6 691.6,450.5 692.0,449.3 692.4,450.3 692.7,450.1 693.1,451.3 693.5,451.8 693.9,450.0 694.2,450.6 694.6,450.1 695.0,453.1 695.4,450.4 695.7,451.2 696.1,451.2 696.5,450.6 696.9,452.5 697.2,451.7 697.6,453.3 698.0,451.3 698.4,453.0 698.7,455.3 699.1,454.2 699.5,453.2 699.9,454.9 700.2,452.5 700.6,454.4 701.0,454.2 701.4,454.4 701.7,454.7 702.1,454.8 702.5,453.4 702.9,453.6 703.2,453.1 703.6,454.9 704.0,452.2 704.4,454.3 704.7,453.7 705.1,454.9 705.5,457.5 705.9,454.7 706.2,456.8 706.6,457.6 707.0,454.7 707.4,455.9 707.7,456.4 708.1,455.2 708.5,456.1 708.9,456.5 709.2,457.3 709.6,456.6 710.0,458.7 710.4,458.0 710.7,457.5 711.1,458.3 711.5,456.0 711.9,456.3 712.2,456.9 712.6,459.3 713.0,461.2 713.4,458.9 713.7,458.3 714.1,458.8 714.5,460.2 714.9,458.6 715.2,459.5 715.6,461.7 716.0,462.3 716.4,461.4 716.7,461.4 717.1,461.2 717.5,462.3 717.9,458.1 718.2,462.0 718.6,462.0 719.0,461.5 719.4,461.6 719.7,463.0 720.1,462.2 720.5,463.7 720.9,462.0 721.2,464.0 721.6,464.6 722.0,462.2 722.4,464.7 722.7,464.2 723.1,464.2 723.5,465.6 723.9,464.8 724.2,463.1 724.6,465.0 725.0,465.8 725.4,463.9 725.7,464.2 726.1,464.3 726.5,464.0 726.9,464.0 727.2,466.2 727.6,466.7 728.0,463.7 728.4,465.4 728.7,465.5 729.1,466.9 729.5,467.6 729.9,466.8 730.2,468.1 730.6,467.9 731.0,467.8 731.4,467.8 731.7,468.6 732.1,466.7 732.5,466.0 732.9,468.3 733.2,468.7 733.6,469.7 734.0,467.6 734.4,466.3 734.7,468.2 735.1,469.4 735.5,466.6 735.9,467.0 736.2,466.4 736.6,465.3 737.0,468.6 737.4,466.6 737.7,469.2 738.1,466.7 738.5,464.7 738.9,465.8 739.2,466.1 739.6,466.7 740.0,467.5 740.4,467.4 740.7,470.0 741.1,464.9 741.5,466.8 741.9,468.1 742.2,469.0 742.6,468.1 743.0,468.3 743.4,469.2 743.7,468.4 744.1,467.9 744.5,468.8 744.9,466.4 745.2,468.5 745.6,467.7 746.0,469.2 746.4,468.9 746.7,470.7 747.1,469.7 747.5,469.7 747.9,468.3 748.2,470.1 748.6,466.6 749.0,470.8 749.4,470.7 749.7,469.8 750.1,470.5 750.5,467.8 750.9,469.1 751.2,468.6 751.6,470.3 752.0,470.7 752.4,472.0 752.7,468.5 753.1,468.8 753.5,470.5 753.9,469.2 754.2,469.3 754.6,471.2 755.0,470.3 755.4,469.5 755.7,471.6 756.1,470.0 756.5,468.2 756.9,469.7 757.2,469.8 757.6,469.0 758.0,471.3 758.4,470.3 758.7,470.5 759.1,471.0 759.5,469.8 759.9,470.0 760.2,470.5 760.6,470.0 761.0,472.3 761.4,469.4 761.7,468.7 762.1,471.1 762.5,470.1 762.9,468.5 763.2,471.4 763.6,471.6 764.0,469.7 764.4,469.2 764.7,471.6 765.1,471.2 765.5,471.1 765.9,469.7 766.2,471.3 766.6,472.5 767.0,471.2 767.4,471.3 767.7,472.0 768.1,471.0 768.5,470.4 768.9,470.8 769.2,471.5 769.6,470.5 770.0,471.0 770.4,469.7 770.7,469.5 771.1,467.5 771.5,470.0 771.9,468.9 772.2,466.9 772.6,468.4 773.0,466.3 773.4,467.4 773.7,468.8 774.1,466.2 774.5,464.8 774.9,464.8 775.2,464.8 775.6,463.4 776.0,464.1 776.4,460.5 776.7,464.0 777.1,461.6 777.5,461.2 777.9,462.2 778.2,461.3 778.6,457.6 779.0,457.9 779.4,460.0 779.7,457.7 780.1,456.6 780.5,457.9 780.9,456.3 781.2,456.3 781.6,454.1 782.0,453.8 782.4,453.8 782.7,453.6 783.1,453.8 783.5,450.1 783.9,451.0 784.2,450.8 784.6,451.7 785.0,450.8 785.4,451.5 785.7,452.5 786.1,451.5 786.5,452.9 786.9,451.6 787.2,449.3 787.6,451.1 788.0,451.5 788.4,453.3 788.7,456.9 789.1,461.5 789.5,463.0 789.9,461.9 790.2,462.4 790.6,465.5 791.0,466.1 791.4,464.4 791.7,466.0 792.1,466.7 792.5,468.8 792.9,469.2 793.2,471.9 793.6,468.7 794.0,467.9 794.4,470.4 794.7,472.5 795.1,470.3 795.5,471.1 795.9,473.5 796.2,474.1 796.6,476.2 797.0,474.6 797.4,479.4 797.7,477.5 798.1,478.2 798.5,475.8 798.9,478.5 799.2,480.8 799.6,478.4 800.0,481.5 800.4,480.6 800.7,481.2 801.1,480.4 801.5,481.7 801.9,478.2 802.2,481.0 802.6,481.4 803.0,482.6 803.4,482.2 803.7,481.1 804.1,483.7 804.5,484.0 804.9,483.6 805.2,485.2 805.6,483.4 806.0,485.4 806.4,485.1 806.7,482.7 807.1,485.4 807.5,483.5 807.9,484.6 808.2,483.6 808.6,486.5 809.0,485.4 809.4,480.7 809.7,482.9 810.1,482.3 810.5,483.6 810.9,484.8 811.2,483.9 811.6,481.3 812.0,481.5 812.4,485.7 812.7,486.2 813.1,488.5 813.5,489.0 813.9,489.2 814.2,491.6 814.6,491.0 815.0,492.5 815.4,492.0 815.7,494.2 816.1,496.9 816.5,492.9 816.9,493.1 817.2,494.7 817.6,497.6 818.0,496.2 818.4,495.2 818.7,497.6 819.1,497.0 819.5,497.7 819.9,495.8 820.2,494.9 820.6,498.6 821.0,496.8 821.4,498.7 821.7,500.8 822.1,499.2 822.5,495.8 822.9,498.1 823.2,496.9 823.6,498.4 824.0,499.5 824.4,497.2 824.7,498.6 825.1,497.7 825.5,498.4 825.9,498.9 826.2,497.5 826.6,499.3 827.0,499.9 827.4,496.5 827.7,498.0 828.1,498.3 828.5,495.2 828.9,497.2 829.2,501.0 829.6,500.2 830.0,499.8 830.4,500.5 830.7,501.8 831.1,498.8 831.5,503.3 831.9,500.5 832.2,500.9 832.6,500.6 833.0,504.0 833.4,503.1 833.7,505.3 834.1,504.9 834.5,509.3 834.9,510.7 835.2,508.1 835.6,508.2 836.0,509.3 836.4,513.9 836.7,511.1 837.1,512.4 837.5,514.0 837.9,516.8 838.2,514.4 838.6,514.2 839.0,516.0 839.4,512.3 839.7,513.6 840.1,517.0 840.5,517.4 840.9,516.5 841.2,516.6 841.6,515.3 842.0,515.6 842.4,519.7 842.7,514.7 843.1,518.6 843.5,515.6 843.9,512.6 844.2,516.4 844.6,513.7 845.0,515.6 845.4,515.1 845.7,518.4 846.1,512.8 846.5,510.1 846.9,513.9 847.2,514.1 847.6,512.4 848.0,511.4 848.4,513.6 848.7,514.8 849.1,513.7 849.5,516.8 849.9,516.4 850.2,516.9 850.6,515.5 851.0,517.8 851.4,521.4 851.7,523.4 852.1,524.6 852.5,523.1 852.9,523.6 853.2,522.9 853.6,523.7 854.0,524.9 854.4,527.8 854.7,528.5 855.1,527.1 855.5,528.6 855.9,525.7 856.2,528.0 856.6,529.6 857.0,528.7 857.4,529.5 857.7,526.1 858.1,532.7 858.5,528.8 858.9,528.7 859.2,530.9 859.6,522.6 860.0,529.6 860.4,534.2 860.7,528.6 861.1,531.4 861.5,525.8 861.9,526.2 862.2,525.8 862.6,531.5 863.0,525.0 863.4,529.2 863.7,526.9 864.1,529.7 864.5,526.1 864.9,526.8 865.2,529.4 865.6,524.9 866.0,524.3 866.4,532.5 866.7,529.1 867.1,529.9 867.5,529.2 867.9,529.9 868.2,528.8 868.6,529.8 869.0,526.2 869.4,523.8 869.7,527.6 870.1,531.9 870.5,527.1 870.9,524.3 871.2,531.0 871.6,529.7 872.0,526.0 872.4,528.9 872.7,528.1 873.1,524.3 873.5,529.1 873.9,527.5 874.2,527.1 874.6,528.6 875.0,522.7 875.4,525.8 875.7,529.7 876.1,529.9 876.5,525.0 876.9,529.8 877.2,527.3 877.6,530.5 878.0,528.7 878.4,534.1 878.7,536.0 879.1,534.5 879.5,535.2 879.9,533.8 880.2,533.6 880.6,537.6 881.0,536.9 881.4,536.5 881.7,534.3 882.1,533.4 882.5,537.7 882.9,537.4 883.2,535.7 883.6,536.1 884.0,532.5 884.4,534.9 884.7,534.3 885.1,537.9 885.5,536.4 885.9,537.3 886.2,536.1 886.6,538.0 887.0,534.7 887.4,542.9 887.7,539.1 888.1,540.5 888.5,540.2 888.9,537.0 889.2,541.9 889.6,538.3 890.0,537.6 890.4,539.9 890.7,536.3 891.1,539.3 891.5,541.6 891.9,536.4 892.2,538.3 892.6,534.6 893.0,537.8 893.4,537.7 893.7,533.0 894.1,539.7 894.5,540.7 894.9,532.1 895.2,536.4 895.6,534.1 896.0,533.6 896.4,534.6 896.7,533.4 897.1,532.5 897.5,532.8 897.9,531.4 898.2,531.8 898.6,529.9 899.0,532.9 899.4,534.4 899.7,529.5 900.1,528.8 900.5,531.8 900.9,524.6 901.2,527.3 901.6,524.2 902.0,524.4 902.4,524.4 902.7,526.6 903.1,530.8 903.5,527.6 903.9,529.5 904.2,533.1 904.6,532.7 905.0,534.1 905.4,532.1 905.7,531.1 906.1,531.2 906.5,531.5 906.9,530.2 907.2,528.1 907.6,532.2 908.0,534.0 908.4,532.7 908.7,536.8 909.1,536.9 909.5,535.0 909.9,533.5 910.2,534.6 910.6,532.7 911.0,533.3 911.4,531.8 911.7,532.7 912.1,534.9 912.5,532.2 912.9,534.0 913.2,532.8 913.6,533.7 914.0,534.7 914.4,529.8 914.7,534.3 915.1,536.8 915.5,540.1 915.9,538.7 916.2,543.5 916.6,541.1 917.0,539.1 917.4,536.2 917.7,538.8 918.1,538.6 918.5,539.1 918.9,539.3 919.2,535.5 919.6,539.0 920.0,537.0 920.4,535.9 920.7,534.1 921.1,536.9 921.5,534.9 921.9,531.0 922.2,535.8 922.6,535.0 923.0,532.4 923.4,537.2 923.7,535.5 924.1,536.9 924.5,533.9 924.9,535.9 925.2,538.4 925.6,539.1 926.0,536.0 926.4,532.1 926.7,538.6 927.1,537.8 927.5,541.8 927.9,536.4 928.2,540.3 928.6,536.7 929.0,540.7 929.4,538.9 929.7,540.9 930.1,540.2 930.5,539.9 930.9,544.1 931.2,543.7 931.6,541.1 932.0,540.0 932.4,540.4 932.7,544.8 933.1,542.8 933.5,540.9 933.9,540.8 934.2,546.5 934.6,544.6 935.0,542.4 935.4,547.9 935.7,545.3 936.1,541.1 936.5,541.0 936.9,543.9 937.2,540.5 937.6,541.3 938.0,546.3 938.4,546.5 938.7,545.9 939.1,542.5 939.5,540.7 939.9,536.4 940.2,536.4 940.6,540.0 941.0,540.4 941.4,542.5 941.7,542.2 942.1,541.9 942.5,542.7 942.9,542.1 943.2,544.8 943.6,539.4 944.0,547.0 944.4,544.1 944.7,540.0 945.1,544.4 945.5,547.4 945.9,542.1 946.2,545.2 946.6,543.7 947.0,547.5 947.4,544.1 947.7,541.6 948.1,544.2 948.5,544.0 948.9,542.5 949.2,540.7 949.6,538.5 950.0,540.9 950.4,536.7 950.7,538.2 951.1,540.8 951.5,542.6 951.9,542.3 952.2,535.8 952.6,541.7 953.0,535.0 953.4,539.8 953.7,538.9 954.1,541.0 954.5,539.1 954.9,540.7 955.2,537.3 955.6,539.0 956.0,541.2 956.4,537.9 956.7,538.2 957.1,539.6 957.5,536.3 957.9,539.5 958.2,537.3 958.6,543.6 959.0,542.8 959.4,542.1 959.7,545.8 960.1,541.7 960.5,541.0 960.9,542.5 961.2,542.8 961.6,541.3 962.0,542.6 962.4,539.2 962.7,539.1 963.1,542.4 963.5,538.9 963.9,544.3 964.2,542.8 964.6,540.1 965.0,544.2 965.4,542.1 965.7,545.0 966.1,540.6 966.5,539.9 966.9,541.9 967.2,538.6 967.6,543.1 968.0,541.5 968.4,533.1 968.7,540.2 969.1,540.4 969.5,537.3 969.9,539.7 970.2,539.3 970.6,535.4 971.0,540.6 971.4,539.4 971.7,538.1 972.1,539.1 972.5,540.2 972.9,542.7 973.2,541.2 973.6,539.9 974.0,539.8 974.4,539.7 974.7,542.9 975.1,541.8 975.5,539.9 975.9,544.4 976.2,544.0 976.6,540.9 977.0,543.9 977.4,542.9 977.7,543.7 978.1,545.0 978.5,542.7 978.9,542.6 979.2,541.7 979.6,545.3 980.0,545.0 980.4,541.0 980.7,545.7 981.1,546.9 981.5,546.4 981.9,545.7 982.2,548.8 982.6,545.8 983.0,543.2 983.4,550.8 983.7,543.7 984.1,547.9 984.5,551.8 984.9,546.6 985.2,551.1 985.6,548.2 986.0,548.2 986.4,544.6 986.7,550.8 987.1,548.0 987.5,551.2 987.9,548.0 988.2,549.9 988.6,549.9 989.0,553.6 989.4,552.3 989.7,547.5 990.1,552.3 990.5,549.4 990.9,548.2 991.2,548.4 991.6,552.0 992.0,545.8 992.4,548.3 992.7,546.7 993.1,549.2 993.5,548.7 993.9,546.5 994.2,547.9 994.6,548.7 995.0,548.1 995.4,549.0 995.7,551.7 996.1,549.4 996.5,549.4 996.9,551.0 997.2,548.8 997.6,549.0 998.0,548.9 998.4,548.7 998.7,549.1 999.1,550.8 999.5,545.0 999.9,549.6 1000.2,551.7 1000.6,554.0 1001.0,554.8 1001.4,547.5 1001.7,549.4 1002.1,551.6 1002.5,547.6 1002.9,549.7 1003.2,551.3 1003.6,550.3 1004.0,546.5 1004.4,553.6 1004.7,549.5 1005.1,551.7 1005.5,547.0 1005.9,550.6 1006.2,553.0 1006.6,553.2 1007.0,552.7 1007.4,551.4 1007.7,547.9 1008.1,546.6 1008.5,553.3 1008.9,546.6 1009.2,547.1 1009.6,551.0 1010.0,548.9 1010.4,552.5 1010.7,548.5 1011.1,552.6 1011.5,556.8 1011.9,548.6 1012.2,550.1 1012.6,549.5 1013.0,550.4 1013.4,549.8 1013.7,553.0 1014.1,553.7 1014.5,552.5 1014.9,554.0 1015.2,550.0 1015.6,553.3 1016.0,551.2 1016.4,555.4 1016.7,553.7 1017.1,547.8 1017.5,552.0 1017.9,549.0 1018.2,551.7 1018.6,554.8 1019.0,557.6 1019.4,553.2 1019.7,553.4 1020.1,553.6 1020.5,551.6 1020.9,547.1 1021.2,553.6 1021.6,551.9 1022.0,551.7 1022.4,552.7 1022.7,553.5 1023.1,552.2 1023.5,554.4 1023.9,552.0 1024.2,554.9 1024.6,551.6 1025.0,551.9 1025.3,550.8 1025.7,552.0 1026.1,548.3 1026.5,551.7 1026.8,554.2 1027.2,557.2 1027.6,552.9 1028.0,554.6 1028.3,555.1 1028.7,555.6 1029.1,551.7 1029.5,555.2 1029.8,562.1 1030.2,559.3 1030.6,555.2 1031.0,557.5 1031.3,559.8 1031.7,556.7 1032.1,558.4 1032.5,557.2 1032.8,554.6 1033.2,556.2 1033.6,552.7 1034.0,555.2 1034.3,555.8 1034.7,553.3 1035.1,555.1 1035.5,554.4 1035.8,553.5 1036.2,552.3 1036.6,551.2 1037.0,553.3 1037.3,553.6 1037.7,555.7 1038.1,549.4 1038.5,555.0 1038.8,554.0 1039.2,553.5 1039.6,551.3 1040.0,560.7 1040.3,556.8 1040.7,555.4 1041.1,556.3 1041.5,551.6 1041.8,555.4 1042.2,557.0 1042.6,556.2 1043.0,553.1 1043.3,555.4 1043.7,560.6 1044.1,558.9 1044.5,558.0 1044.8,558.8 1045.2,563.0 1045.6,558.1 1046.0,555.7 1046.3,553.7 1046.7,558.2 1047.1,557.8 1047.5,553.0 1047.8,556.7 1048.2,557.1 1048.6,556.4 1049.0,552.1 1049.3,554.2 1049.7,554.0 1050.1,560.5 1050.5,557.1 1050.8,555.2 1051.2,559.2 1051.6,553.6 1052.0,557.0 1052.3,559.7 1052.7,556.1 1053.1,556.1 1053.5,554.4 1053.8,556.7"/>
</g>
<path d="M202.75 603.50Q206.45 604.70 207.65 608.40Q206.45 612.10 202.75 613.30Q199.05 612.10 197.85 608.40Q199.05 604.70 202.75 603.50Z" fill="#f00" stroke="#000" stroke-width="0.7"/>
<polygon points="334.6,164.2 340.6,174.3 334.6,184.5 328.6,174.3" fill="#f00" stroke="#000" stroke-width="0.7" stroke-linejoin="miter"/>
<path d="M386.5 731.5v-6.2M386.5 81.5v6.2M621.5 731.5v-6.2M621.5 81.5v6.2M855.5 731.5v-6.2M855.5 81.5v6.2M152.5 622.5h6.3M1091.5 622.5h-6.3M152.5 514.5h6.3M1091.5 514.5h-6.3M152.5 406.5h6.3M1091.5 406.5h-6.3M152.5 297.5h6.3M1091.5 297.5h-6.3M152.5 189.5h6.3M1091.5 189.5h-6.3" stroke="#000" stroke-width="0.8" fill="none"/>
<path d="M152.5 698.5h3M1091.5 698.5h-3M152.5 679.5h3M1091.5 679.5h-3M152.5 665.5h3M1091.5 665.5h-3M152.5 655.5h3M1091.5 655.5h-3M152.5 646.5h3M1091.5 646.5h-3M152.5 639.5h3M1091.5 639.5h-3M152.5 633.5h3M1091.5 633.5h-3M152.5 627.5h3M1091.5 627.5h-3M152.5 590.5h3M1091.5 590.5h-3M152.5 570.5h3M1091.5 570.5h-3M152.5 557.5h3M1091.5 557.5h-3M152.5 546.5h3M1091.5 546.5h-3M152.5 538.5h3M1091.5 538.5h-3M152.5 531.5h3M1091.5 531.5h-3M152.5 524.5h3M1091.5 524.5h-3M152.5 519.5h3M1091.5 519.5h-3M152.5 481.5h3M1091.5 481.5h-3M152.5 462.5h3M1091.5 462.5h-3M152.5 449.5h3M1091.5 449.5h-3M152.5 438.5h3M1091.5 438.5h-3M152.5 430.5h3M1091.5 430.5h-3M152.5 422.5h3M1091.5 422.5h-3M152.5 416.5h3M1091.5 416.5h-3M152.5 411.5h3M1091.5 411.5h-3M152.5 373.5h3M1091.5 373.5h-3M152.5 354.5h3M1091.5 354.5h-3M152.5 340.5h3M1091.5 340.5h-3M152.5 330.5h3M1091.5 330.5h-3M152.5 321.5h3M1091.5 321.5h-3M152.5 314.5h3M1091.5 314.5h-3M152.5 308.5h3M1091.5 308.5h-3M152.5 302.5h3M1091.5 302.5h-3M152.5 265.5h3M1091.5 265.5h-3M152.5 246.5h3M1091.5 246.5h-3M152.5 232.5h3M1091.5 232.5h-3M152.5 222.5h3M1091.5 222.5h-3M152.5 213.5h3M1091.5 213.5h-3M152.5 206.5h3M1091.5 206.5h-3M152.5 200.5h3M1091.5 200.5h-3M152.5 194.5h3M1091.5 194.5h-3M152.5 156.5h3M1091.5 156.5h-3M152.5 137.5h3M1091.5 137.5h-3M152.5 124.5h3M1091.5 124.5h-3M152.5 113.5h3M1091.5 113.5h-3M152.5 105.5h3M1091.5 105.5h-3M152.5 98.5h3M1091.5 98.5h-3M152.5 91.5h3M1091.5 91.5h-3M152.5 86.5h3M1091.5 86.5h-3" stroke="#000" stroke-width="0.8" fill="none"/>
<rect x="152.5" y="81.5" width="939.0" height="650.0" fill="none" stroke="#000" stroke-width="1.1"/>
<text class="t" x="151.3" y="749.3" text-anchor="middle">0</text>
<text class="t" x="386.1" y="749.3" text-anchor="middle">50</text>
<text class="t" x="620.9" y="749.3" text-anchor="middle">100</text>
<text class="t" x="855.8" y="749.3" text-anchor="middle">150</text>
<text class="t" x="1090.6" y="749.3" text-anchor="middle">200</text>
<text class="t" x="146" y="739.0" text-anchor="end">10<tspan class="s" dy="-9.2">-4</tspan></text>
<text class="t" x="146" y="630.7" text-anchor="end">10<tspan class="s" dy="-9.2">-3</tspan></text>
<text class="t" x="146" y="522.5" text-anchor="end">10<tspan class="s" dy="-9.2">-2</tspan></text>
<text class="t" x="146" y="414.2" text-anchor="end">10<tspan class="s" dy="-9.2">-1</tspan></text>
<text class="t" x="146" y="305.9" text-anchor="end">10<tspan class="s" dy="-9.2">0</tspan></text>
<text class="t" x="146" y="197.7" text-anchor="end">10<tspan class="s" dy="-9.2">1</tspan></text>
<text class="t" x="146" y="89.4" text-anchor="end">10<tspan class="s" dy="-9.2">2</tspan></text>
<text x="621.2" y="74.2" text-anchor="middle" font-size="20">20000714 Wind/EPACT 28-72 MeV</text>
<text class="l" x="622" y="775" text-anchor="middle">Hours after 14-07-2000 00:01:18.280</text>
<g transform="translate(95.0,0) rotate(-90)">
<text class="l" x="-560.90" y="0.0">Intensity (cm</text>
<text class="ls" transform="translate(-424.00,-7.3) scale(0.640,1)">−</text>
<text class="ls" x="-415.20" y="-8.6">2</text>
<text class="l" x="-400.40" y="0.0">s</text>
<text class="ls" transform="translate(-390.50,-7.3) scale(0.640,1)">−</text>
<text class="ls" x="-383.60" y="-8.6">1</text>
<text class="l" x="-362.80" y="0.0">sr</text>
<text class="ls" transform="translate(-343.40,-7.3) scale(0.640,1)">−</text>
<text class="ls" x="-336.30" y="-8.6">1</text>
<text class="l" x="-324.90" y="0.0">MeV</text>
<text class="ls" transform="translate(-279.70,-7.3) scale(0.640,1)">−</text>
<text class="ls" x="-273.10" y="-8.6">1</text>
<text class="l" x="-260.60" y="0.0">)</text>
</g>
</svg></body></html>
